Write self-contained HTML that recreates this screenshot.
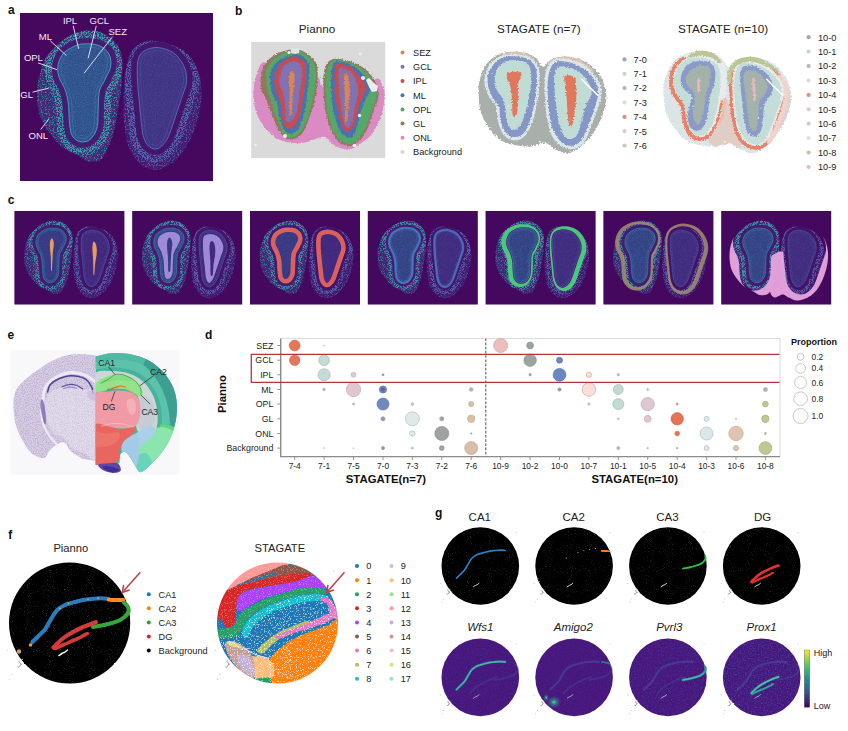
<!DOCTYPE html>
<html><head><meta charset="utf-8"><title>Figure</title>
<style>html,body{margin:0;padding:0;background:#fff}svg{display:block}text{font-family:"Liberation Sans", Arial, sans-serif}</style></head>
<body><svg width="848" height="731" viewBox="0 0 848 731">
<defs>
<filter id="spk" x="-5%" y="-5%" width="110%" height="110%" color-interpolation-filters="sRGB">
 <feTurbulence type="fractalNoise" baseFrequency="0.75" numOctaves="2" seed="4" result="n"/>
 <feColorMatrix in="n" type="matrix" values="0 0 0 0 1  0 0 0 0 1  0 0 0 0 1  6 0 0 0 -3.05" result="m"/>
 <feComposite in="SourceGraphic" in2="m" operator="in" result="d"/>
 <feGaussianBlur in="d" stdDeviation="0.35"/>
</filter>
<filter id="spk2" x="-5%" y="-5%" width="110%" height="110%" color-interpolation-filters="sRGB">
 <feTurbulence type="fractalNoise" baseFrequency="0.8" numOctaves="2" seed="11" result="n"/>
 <feColorMatrix in="n" type="matrix" values="0 0 0 0 1  0 0 0 0 1  0 0 0 0 1  7 0 0 0 -3.2" result="m"/>
 <feComposite in="SourceGraphic" in2="m" operator="in" result="d"/>
 <feGaussianBlur in="d" stdDeviation="0.3"/>
</filter>
<filter id="fine" x="0" y="0" width="100%" height="100%" color-interpolation-filters="sRGB">
 <feTurbulence type="fractalNoise" baseFrequency="0.9" numOctaves="1" seed="2" result="n"/>
 <feColorMatrix in="n" type="matrix" values="0 0 0 0 1  0 0 0 0 1  0 0 0 0 1  3 0 0 0 -1.3" result="m"/>
 <feComposite in="SourceGraphic" in2="m" operator="in"/>
</filter>
<filter id="rough" x="-5%" y="-5%" width="110%" height="110%">
 <feTurbulence type="fractalNoise" baseFrequency="0.55" numOctaves="2" seed="5" result="n"/>
 <feDisplacementMap in="SourceGraphic" in2="n" scale="3.4" xChannelSelector="R" yChannelSelector="G"/>
</filter>
<filter id="rough1" x="-5%" y="-5%" width="110%" height="110%">
 <feTurbulence type="fractalNoise" baseFrequency="0.5" numOctaves="2" seed="8" result="n"/>
 <feDisplacementMap in="SourceGraphic" in2="n" scale="1.4" xChannelSelector="R" yChannelSelector="G"/>
</filter>

<g id="dapi"><rect x="20" y="13" width="193" height="168" fill="#46085f"/>
<path d="M86.6 30.2 82.9 30.8 77.1 32.5 71.4 34.8 66.4 37.4 63.4 39.5 59.3 43.0 50.6 51.2 47.4 54.9 45.3 58.2 43.0 63.4 38.5 78.4 37.2 87.1 37.1 98.7 37.6 105.1 38.7 111.4 40.0 116.0 41.8 120.5 44.1 125.0 46.9 129.5 51.7 136.0 56.0 141.1 60.5 145.7 63.5 148.1 68.3 150.8 77.4 155.0 84.8 160.2 88.0 161.5 93.2 161.8 97.1 161.3 99.4 160.5 101.2 159.6 103.1 157.8 109.5 144.6 113.0 135.0 116.2 120.0 120.6 93.6 121.6 83.7 122.6 62.1 121.4 54.4 119.3 48.5 117.9 45.8 116.0 43.2 111.3 38.3 105.5 34.3 99.1 31.6 92.0 30.2Z" fill="#45307e" opacity="0.75" filter="url(#rough1)"/>
<path d="M84.8 30.4 80.9 31.2 75.1 33.2 69.7 35.6 64.9 38.4 60.6 41.8 51.5 50.3 48.9 53.0 46.7 55.9 44.7 59.4 43.0 63.4 38.5 78.4 37.2 87.1 37.1 98.7 37.6 105.1 38.7 111.4 40.0 116.0 41.8 120.5 44.1 125.0 46.9 129.5 51.7 136.0 56.0 141.1 60.5 145.7 63.5 148.1 68.3 150.8 77.4 155.0 84.8 160.2 88.0 161.5 93.2 161.8 97.1 161.3 99.4 160.5 101.2 159.6 103.1 157.8 109.5 144.6 113.0 135.0 116.2 120.0 120.6 93.6 121.6 83.7 122.6 62.1 121.4 54.4 119.3 48.5 117.9 45.8 116.0 43.2 111.3 38.3 105.5 34.3 99.1 31.6 92.0 30.2 88.4 30.1ZM83.0 38.7 90.4 38.7 97.8 39.7 102.9 41.6 107.2 44.3 111.1 48.0 113.8 52.1 114.9 54.8 115.8 58.1 116.2 63.3 115.7 68.1 114.4 71.9 109.1 83.1 105.4 89.5 104.4 92.3 103.7 98.2 102.9 123.4 102.1 129.0 100.8 132.8 99.3 136.0 97.6 138.9 95.5 141.4 93.1 143.6 90.7 145.1 87.7 146.3 84.7 147.0 81.7 147.2 77.2 146.4 72.8 144.0 70.6 142.0 68.8 140.0 66.3 135.3 65.4 132.3 64.8 127.8 64.1 119.6 63.5 106.4 62.4 99.1 61.1 94.1 59.5 89.6 55.3 81.9 54.2 79.0 52.9 73.4 52.5 68.1 53.0 63.5 54.8 57.8 57.4 52.6 60.5 48.8 66.0 44.8 73.3 40.9 78.4 39.3Z" fill="#308d9f" fill-rule="evenodd" filter="url(#spk)" opacity="0.9"/>
<path d="M46.7 57.0 45.4 61.8 44.9 65.4 44.7 69.9 45.1 74.5 47.2 82.7 48.9 86.5 52.4 92.8 54.8 100.8 55.7 107.0 56.3 120.1 57.2 130.4 58.2 135.6 59.8 140.0 62.7 144.8 67.1 149.5 68.5 150.4 77.6 154.5 81.7 155.0 86.0 154.7 90.3 153.7 93.4 152.5 98.6 149.2 103.0 144.6 105.4 141.1 107.1 137.9 109.7 130.7 110.7 123.6 111.5 98.6 112.0 94.1 112.6 92.4 116.1 86.5 121.5 75.3 122.1 65.3 122.0 60.6 120.9 54.6 118.9 48.8 116.6 44.8 113.4 41.0 109.6 37.6 105.3 34.7 100.7 32.7 96.9 31.6 91.0 30.9 85.7 30.8 81.1 31.7 75.3 33.6 69.9 36.1 65.2 38.8 60.9 42.2 51.8 50.7 48.5 54.2ZM83.1 37.9 90.5 37.9 98.0 38.9 103.2 40.8 107.7 43.6 111.7 47.5 114.6 51.8 115.7 54.6 116.5 57.9 117.0 63.4 116.4 68.3 115.2 72.2 109.8 83.5 106.1 89.8 105.1 92.5 104.5 98.3 103.7 123.4 102.9 129.2 101.6 133.1 100.0 136.4 98.2 139.4 96.1 142.0 93.6 144.3 91.1 145.8 88.0 147.1 84.8 147.8 81.7 148.0 77.0 147.1 72.3 144.6 70.0 142.6 68.2 140.5 66.4 137.7 65.5 135.6 64.7 132.4 64.0 127.8 63.3 119.7 62.7 106.5 61.6 99.3 60.4 94.4 58.8 90.0 54.6 82.3 53.4 79.3 52.1 73.5 51.7 68.1 52.3 63.3 54.0 57.5 56.7 52.2 60.0 48.2 65.5 44.1 73.0 40.2 78.2 38.5Z" fill="#3cabb0" fill-rule="evenodd" filter="url(#spk2)" opacity="0.9"/>
<path d="M81.4 38.4 75.9 39.5 71.0 41.5 63.6 45.8 59.2 49.6 56.3 53.7 53.9 59.1 52.4 64.8 52.1 69.2 52.5 73.7 53.8 79.1 55.0 82.1 59.2 89.8 60.7 94.3 62.0 99.2 63.1 106.5 63.7 119.7 64.6 129.2 65.1 132.6 66.1 135.9 67.4 138.5 69.2 141.1 73.0 144.6 75.7 146.2 78.0 147.0 82.8 147.6 85.9 147.2 89.0 146.4 91.9 144.9 93.8 143.6 95.8 141.7 97.9 139.1 99.7 136.2 101.2 133.0 102.5 129.1 103.3 123.4 104.1 98.3 104.8 92.4 105.7 89.7 109.4 83.3 114.8 72.1 116.1 68.2 116.6 63.0 115.9 56.7 114.0 51.5 111.1 47.4 109.0 45.3 106.3 43.2 101.4 40.5 96.3 39.0 88.5 38.2ZM83.4 43.9 90.0 43.9 95.2 44.4 99.4 45.7 103.1 47.7 107.0 51.2 109.1 54.3 110.4 57.9 111.0 63.1 110.5 67.1 109.7 69.9 104.4 80.8 100.7 87.2 99.3 91.1 98.5 98.0 97.8 122.9 97.3 126.3 96.0 130.8 93.4 135.8 90.1 139.4 88.2 140.6 86.1 141.4 81.7 142.0 78.8 141.4 75.2 139.3 72.9 136.8 71.2 133.7 70.6 131.3 70.0 127.2 69.1 117.5 68.7 106.1 67.5 98.0 66.1 92.6 64.3 87.6 60.5 80.7 59.1 77.3 58.0 72.7 57.7 68.1 58.1 64.6 59.5 59.8 61.8 55.4 64.0 52.7 67.7 49.8 74.5 46.1 78.4 44.6Z" fill="#441d72" fill-rule="evenodd"/>
<path d="M82.0 44.0 78.4 44.6 74.5 46.1 67.7 49.8 64.0 52.7 61.8 55.4 59.5 59.8 58.1 64.6 57.7 69.2 58.0 72.7 59.1 77.3 60.5 80.7 64.3 87.6 66.1 92.6 67.5 98.0 68.7 106.1 69.1 117.5 70.0 127.2 70.6 131.3 71.2 133.7 72.9 136.8 76.1 139.9 79.7 141.7 82.8 142.0 87.2 141.1 89.2 140.0 91.0 138.7 94.1 134.7 96.6 129.4 97.3 126.3 97.8 122.9 98.5 98.0 99.3 91.1 100.7 87.2 104.4 80.8 109.7 69.9 110.5 67.1 111.0 63.1 110.4 57.9 109.1 54.3 107.0 51.2 103.1 47.7 99.4 45.7 95.2 44.4 88.3 43.8Z" fill="#30508c" stroke="#4ea6c0" stroke-width="0.9"/>
<path d="M82.1 44.6 78.6 45.2 74.8 46.6 68.0 50.3 64.4 53.1 62.3 55.7 60.1 60.0 58.7 64.8 58.3 69.2 58.6 72.6 59.7 77.1 61.1 80.4 64.9 87.3 66.7 92.5 68.1 97.9 69.3 106.0 69.7 117.5 70.6 127.1 71.1 131.2 71.8 133.5 73.4 136.4 76.4 139.4 79.8 141.1 82.7 141.4 86.9 140.5 88.9 139.5 90.5 138.2 93.6 134.3 96.0 129.2 96.8 126.2 97.2 122.8 97.9 97.9 98.7 91.0 100.1 86.9 103.9 80.5 108.5 71.1 110.0 67.0 110.4 63.1 109.8 58.0 108.6 54.5 106.6 51.6 102.7 48.2 99.2 46.3 95.0 45.0 88.3 44.4Z" fill="#4587b6" filter="url(#fine)" opacity="0.42"/>
<path d="M82.3 47.2 79.3 47.7 75.9 48.9 69.5 52.5 66.3 55.0 64.5 57.1 62.5 61.0 61.2 65.3 60.9 68.2 61.2 72.2 62.2 76.3 67.8 87.6 70.6 97.4 71.7 104.0 72.4 119.1 73.3 128.2 73.9 131.7 75.0 134.1 77.3 136.8 79.3 138.1 81.8 138.8 84.3 138.6 86.0 138.1 88.8 136.3 91.4 133.0 93.5 128.4 94.6 122.7 95.3 97.8 96.2 90.5 97.8 85.7 101.6 79.3 106.1 70.1 107.4 66.4 107.8 63.1 107.3 58.6 105.8 54.9 103.1 51.7 100.3 49.7 97.1 48.2 93.1 47.4 88.2 47.0Z" fill="none" stroke="#4ea6c0" stroke-width="0.5" opacity="0.5"/>
<path d="M148.7 40.6 145.2 41.0 142.4 42.0 135.5 46.5 133.1 48.9 131.7 50.9 130.4 53.3 128.6 57.6 126.4 66.2 124.9 75.7 123.2 100.0 123.2 114.0 124.2 126.0 126.3 138.4 128.4 146.2 131.3 152.8 135.9 159.7 139.1 163.1 142.5 165.9 146.2 168.1 148.7 169.1 151.3 169.8 155.0 170.0 158.9 169.4 164.4 167.4 169.0 165.0 173.7 161.9 178.0 158.0 180.7 155.0 186.8 145.9 190.0 140.0 192.8 133.7 195.3 127.0 198.0 118.0 199.5 111.3 201.0 102.3 201.5 96.0 201.5 88.4 200.9 83.1 200.0 78.0 198.7 72.9 197.0 68.0 194.8 63.4 193.1 60.6 190.2 56.7 186.9 53.1 183.0 50.0 180.0 48.2 171.3 44.6 164.2 42.5 158.7 41.4 153.3 40.7Z" fill="#452578" opacity="0.6" filter="url(#rough1)"/>
<path d="M147.4 40.7 144.2 41.3 141.5 42.5 137.2 45.2 134.7 47.2 132.4 49.8 131.0 52.0 128.6 57.6 126.4 66.2 124.9 75.7 123.1 102.0 123.3 116.0 124.5 128.0 126.7 140.4 129.0 148.0 132.1 154.3 137.0 160.9 142.5 165.9 146.2 168.1 148.7 169.1 151.3 169.8 155.0 170.0 158.9 169.4 164.4 167.4 169.0 165.0 173.7 161.9 178.0 158.0 180.7 155.0 186.8 145.9 190.0 140.0 192.8 133.7 195.3 127.0 198.0 118.0 199.5 111.3 201.0 102.3 201.5 96.0 201.5 88.4 200.9 83.1 199.6 76.3 198.2 71.3 196.3 66.4 194.0 62.0 191.3 57.9 188.1 54.2 185.7 52.0 181.5 49.1 178.4 47.4 173.1 45.2 167.7 43.5 162.4 42.1 156.9 41.2 151.7 40.6ZM142.7 45.8 145.8 44.4 150.6 42.9 154.3 42.4 158.1 42.3 161.9 42.8 166.0 43.8 169.9 45.1 173.7 46.9 177.3 49.1 180.1 51.6 182.9 54.7 185.3 58.1 187.5 61.7 189.7 66.4 190.9 70.0 191.6 73.5 191.9 80.7 191.5 84.3 190.5 88.5 186.4 100.1 175.6 132.6 173.4 138.3 170.6 143.7 166.2 149.1 163.7 151.2 161.4 152.7 159.4 153.6 156.8 154.2 153.0 154.0 149.1 152.8 146.1 150.9 143.3 148.1 141.4 145.3 139.4 141.0 137.8 135.9 136.8 130.0 132.8 89.5 132.1 76.5 132.1 64.7 133.0 58.7 135.3 52.7 138.1 49.0 140.0 47.4Z" fill="#5166b0" fill-rule="evenodd" filter="url(#spk)" opacity="0.8"/>
<path d="M124.7 85.6 125.7 98.8 129.4 133.4 131.4 141.7 134.5 149.0 137.3 153.1 140.4 156.3 144.0 158.9 148.1 160.8 152.8 161.9 156.3 162.0 160.7 161.3 165.3 159.5 169.0 157.0 173.0 153.2 177.0 148.1 179.7 143.4 183.0 135.3 193.7 102.6 197.9 91.0 199.2 85.5 199.8 79.4 197.7 71.4 194.4 63.7 189.9 57.0 185.3 52.4 179.8 48.6 173.7 46.0 177.8 48.5 182.1 52.6 186.0 57.6 188.9 62.8 191.0 67.8 192.4 73.1 192.8 78.6 192.5 82.8 191.8 86.6 190.6 90.7 187.1 100.3 176.4 132.8 174.1 138.9 171.4 143.9 168.0 148.4 164.2 151.9 161.8 153.4 159.6 154.4 156.9 155.0 153.5 154.9 150.3 154.1 146.9 152.5 144.5 150.5 142.4 148.3 140.1 144.6 138.6 141.2 137.0 136.1 136.0 129.9 134.6 114.7 132.5 96.0 131.3 78.6 131.2 67.8 131.6 61.6 133.0 56.0 135.3 51.2 138.3 47.7 142.6 44.9 148.9 42.5 155.5 41.5 148.7 41.1 146.3 41.3 143.5 42.1 141.0 43.4 136.7 46.2 132.8 50.1 131.4 52.2 129.7 56.3 127.2 64.5 125.6 73.8Z" fill="#5b7fc0" fill-rule="evenodd" filter="url(#spk2)" opacity="0.75"/>
<path d="M141.1 46.2 137.4 49.1 135.9 51.0 134.5 53.4 132.5 58.9 131.7 64.8 131.7 76.5 132.4 89.5 136.7 132.0 137.5 136.3 139.1 141.3 141.2 145.8 143.7 149.2 146.3 151.6 149.9 153.6 153.5 154.5 156.8 154.6 159.5 154.0 161.6 153.0 163.9 151.6 166.5 149.4 170.9 143.9 173.8 138.5 176.0 132.7 186.7 100.2 190.9 88.6 191.9 84.4 192.3 80.7 192.0 73.4 191.3 69.9 190.1 66.3 187.8 61.5 185.6 57.8 183.2 54.5 180.4 51.3 177.1 48.6 173.6 46.4 169.8 44.6 165.9 43.3 160.3 42.1 156.6 41.9 152.7 42.1 148.7 43.0 144.2 44.6ZM145.1 50.3 148.9 48.8 151.8 48.0 154.9 47.5 157.9 47.5 162.7 48.3 166.2 49.3 169.5 50.6 172.6 52.3 175.3 54.2 177.8 56.7 182.0 62.5 183.6 65.5 185.4 69.9 186.6 75.6 186.6 81.9 185.5 87.1 181.5 98.4 170.7 130.9 168.6 136.3 166.3 140.7 162.6 145.3 158.8 148.2 156.0 149.0 154.1 148.9 151.2 148.0 148.7 146.3 146.6 143.8 144.8 140.5 143.8 137.8 142.5 133.1 142.0 129.3 138.0 89.1 137.3 76.4 137.3 66.4 137.7 61.3 139.4 56.0 141.6 52.8Z" fill="#45156a" fill-rule="evenodd"/>
<path d="M144.1 50.9 141.6 52.8 139.4 56.0 137.7 61.3 137.3 66.4 137.3 76.4 138.0 89.1 142.0 129.3 142.5 133.1 143.8 137.8 144.8 140.5 146.6 143.8 148.7 146.3 151.2 148.0 154.1 148.9 156.0 149.0 158.8 148.2 162.6 145.3 166.3 140.7 168.6 136.3 170.7 130.9 181.5 98.4 185.5 87.1 186.6 81.9 186.6 75.6 185.4 69.9 183.6 65.5 182.0 62.5 177.8 56.7 175.3 54.2 172.6 52.3 169.5 50.6 166.2 49.3 162.7 48.3 157.9 47.5 154.9 47.5 150.4 48.3 147.6 49.2Z" fill="#403282" stroke="#5a72b6" stroke-width="0.9"/>
<path d="M144.4 51.4 141.4 53.9 139.6 57.2 138.3 61.4 137.8 67.9 137.9 78.4 138.7 91.3 142.5 129.2 143.1 133.0 144.4 137.6 145.4 140.3 147.1 143.5 149.1 145.9 151.5 147.5 154.1 148.4 156.0 148.4 157.7 148.0 159.5 147.1 163.1 143.9 166.6 139.1 168.8 134.4 184.9 86.9 186.0 81.8 186.1 75.7 184.8 70.0 183.1 65.8 181.5 62.8 177.3 57.1 174.9 54.7 172.3 52.8 166.0 49.8 162.6 48.9 157.9 48.1 154.9 48.1 150.5 48.9 147.8 49.8Z" fill="#5a68b8" filter="url(#fine)" opacity="0.3"/>
<path d="M145.7 53.7 143.5 55.6 141.7 59.0 140.7 62.9 140.4 69.4 140.5 78.3 141.3 91.0 145.1 128.9 145.7 132.5 146.8 136.8 149.3 142.0 150.3 143.4 152.0 144.8 153.9 145.6 155.7 145.8 158.1 144.9 161.2 142.2 164.3 137.8 166.4 133.4 182.4 86.2 183.4 81.5 183.5 76.0 182.4 70.9 179.2 64.2 175.4 58.8 173.2 56.7 170.9 55.0 165.1 52.3 162.0 51.4 157.7 50.7 155.1 50.7 151.2 51.4Z" fill="none" stroke="#5a72b6" stroke-width="0.5" opacity="0.5"/></g>
<filter id="nissl" x="0" y="0" width="100%" height="100%" color-interpolation-filters="sRGB">
 <feTurbulence type="fractalNoise" baseFrequency="0.9" numOctaves="2" seed="9" result="n"/>
 <feColorMatrix in="n" type="matrix" values="0 0 0 0 0.56  0 0 0 0 0.46  0 0 0 0 0.72  4 0 0 0 -1.7" result="c"/>
 <feComposite in="c" in2="SourceGraphic" operator="in"/>
</filter>
<clipPath id="rhemi"><rect x="95.4" y="345" width="90" height="135"/></clipPath>
<clipPath id="lhemi"><rect x="8" y="345" width="87.4" height="135"/></clipPath>
<clipPath id="rbrain"><path d="M95.5 356.5 L101.1 355.2C102.9 354.9 107.3 353.5 112.2 353.3C117.1 353.2 124.5 353.0 130.7 354.2C136.8 355.5 143.6 357.6 149.1 360.7C154.7 363.8 159.9 368.3 163.9 372.7C167.9 377.2 171.0 382.3 173.2 387.5C175.3 392.8 176.5 398.3 176.9 404.1C177.2 410.0 176.6 416.8 175.4 422.6C174.2 428.5 172.3 434.0 169.9 439.3C167.4 444.5 163.9 449.7 160.6 454.1C157.3 458.4 153.4 462.1 150.1 465.1C146.8 468.2 143.3 472.0 140.8 472.2C138.4 472.3 137.1 468.6 135.3 466.1C133.4 463.5 131.5 459.2 129.7 456.8C128.0 454.5 126.3 452.2 124.8 451.8C123.2 451.4 121.4 452.5 120.5 454.4C119.6 456.3 119.7 461.8 119.6 463.3L95.5 465.1 Z"/></clipPath>
<filter id="edge" x="-5%" y="-5%" width="110%" height="110%">
 <feTurbulence type="fractalNoise" baseFrequency="0.9" numOctaves="1" seed="3" result="n"/>
 <feDisplacementMap in="SourceGraphic" in2="n" scale="1.6" xChannelSelector="R" yChannelSelector="G"/>
</filter>
<filter id="dots2" x="0" y="0" width="100%" height="100%" color-interpolation-filters="sRGB">
 <feTurbulence type="fractalNoise" baseFrequency="0.85" numOctaves="2" seed="31" result="n"/>
 <feColorMatrix in="n" type="matrix" values="0 0 0 0 1  0 0 0 0 1  0 0 0 0 1  8 0 0 0 -4.5" result="c"/>
 <feComposite in="c" in2="SourceGraphic" operator="in"/>
</filter>
<filter id="dots" x="0" y="0" width="100%" height="100%" color-interpolation-filters="sRGB">
 <feTurbulence type="fractalNoise" baseFrequency="0.95" numOctaves="1" seed="21" result="n"/>
 <feColorMatrix in="n" type="matrix" values="0 0 0 0 1  0 0 0 0 1  0 0 0 0 1  9 0 0 0 -5.6" result="c"/>
 <feComposite in="c" in2="SourceGraphic" operator="in"/>
</filter>
<clipPath id="fsc"><circle cx="277.5" cy="623.0" r="60.5"/></clipPath>
<filter id="vnoise" x="0" y="0" width="100%" height="100%" color-interpolation-filters="sRGB">
 <feTurbulence type="fractalNoise" baseFrequency="0.7" numOctaves="2" seed="13" result="n"/>
 <feColorMatrix in="n" type="matrix" values="0 0 0 0 0.24  0 0 0 0 0.28  0 0 0 0 0.62  3.2 0 0 0 -1.45" result="c"/>
 <feComposite in="c" in2="SourceGraphic" operator="in"/>
</filter>
<radialGradient id="amg"><stop offset="0" stop-color="#7fe07a" stop-opacity="0.95"/><stop offset="0.3" stop-color="#2fa08f" stop-opacity="0.75"/><stop offset="1" stop-color="#3b5a9a" stop-opacity="0"/></radialGradient>
<linearGradient id="vir" x1="0" y1="1" x2="0" y2="0">
 <stop offset="0" stop-color="#440154"/><stop offset="0.25" stop-color="#3b528b"/><stop offset="0.5" stop-color="#21918c"/><stop offset="0.75" stop-color="#5ec962"/><stop offset="1" stop-color="#fde725"/>
</linearGradient></defs>
<rect width="848" height="731" fill="#fff"/>
<use href="#dapi"/>
<text x="8.0" y="14.4" font-size="12" fill="#111" text-anchor="start" font-weight="bold" font-style="normal" >a</text>
<text x="62.9" y="23.6" font-size="9.5" fill="#f3e9f6" text-anchor="start" font-weight="normal" font-style="normal" >IPL</text>
<text x="89.5" y="23.6" font-size="9.5" fill="#f3e9f6" text-anchor="start" font-weight="normal" font-style="normal" >GCL</text>
<text x="108.5" y="35.3" font-size="9.5" fill="#f3e9f6" text-anchor="start" font-weight="normal" font-style="normal" >SEZ</text>
<text x="38.8" y="39.9" font-size="9.5" fill="#f3e9f6" text-anchor="start" font-weight="normal" font-style="normal" >ML</text>
<text x="23.9" y="60.8" font-size="9.5" fill="#f3e9f6" text-anchor="start" font-weight="normal" font-style="normal" >OPL</text>
<text x="20.3" y="97.7" font-size="9.5" fill="#f3e9f6" text-anchor="start" font-weight="normal" font-style="normal" >GL</text>
<text x="28.5" y="138.9" font-size="9.5" fill="#f3e9f6" text-anchor="start" font-weight="normal" font-style="normal" >ONL</text>
<line x1="73.2" y1="25.8" x2="78.7" y2="48.8" stroke="#efe6f5" stroke-width="0.9"/>
<line x1="96.3" y1="25.8" x2="88.1" y2="58.3" stroke="#efe6f5" stroke-width="0.9"/>
<line x1="112.6" y1="36.6" x2="84.1" y2="73.2" stroke="#efe6f5" stroke-width="0.9"/>
<line x1="50.2" y1="40.7" x2="66.4" y2="55.6" stroke="#efe6f5" stroke-width="0.9"/>
<line x1="38.0" y1="62.9" x2="57.0" y2="69.7" stroke="#efe6f5" stroke-width="0.9"/>
<line x1="32.5" y1="92.2" x2="48.8" y2="88.1" stroke="#efe6f5" stroke-width="0.9"/>
<line x1="40.7" y1="129.6" x2="48.8" y2="118.8" stroke="#efe6f5" stroke-width="0.9"/>
<text x="235.1" y="14.6" font-size="12" fill="#111" text-anchor="start" font-weight="bold" font-style="normal" >b</text>
<rect x="251.2" y="42" width="134" height="116" fill="#dadada"/>
<g filter="url(#rough)">
<path d="M264.9 62.6 263.4 62.3 262.2 62.7 261.1 63.7 260.1 65.0 258.6 68.5 255.2 79.1 254.1 84.2 253.4 91.4 253.5 97.0 254.1 102.9 255.2 108.8 256.3 112.4 258.3 117.4 260.8 122.0 264.9 127.7 268.5 131.7 272.6 135.3 276.9 138.4 281.3 140.5 286.0 141.9 293.6 143.0 299.1 143.2 303.1 142.8 308.4 141.7 319.4 137.6 322.7 136.8 324.1 136.8 325.6 137.3 326.9 138.1 331.9 143.5 335.0 145.6 338.9 147.5 343.2 149.1 346.0 149.7 348.5 149.7 350.8 149.2 354.1 147.8 360.1 144.1 365.6 140.1 368.4 137.7 371.0 134.9 373.3 131.9 375.6 128.3 377.6 124.5 379.5 120.4 381.8 114.3 383.3 107.7 384.4 98.8 384.6 93.2 384.3 89.3 383.3 86.6 381.4 82.9 380.6 80.1 379.7 79.2 378.2 78.8 375.5 79.2 371.9 80.7 362.7 85.1 357.6 86.9 354.9 87.5 345.6 88.4 335.1 88.6 328.9 88.3 326.4 87.9 324.3 87.5 322.7 86.7 321.6 85.7 320.8 84.4 320.0 81.5 319.6 77.9 319.3 77.2 318.9 76.9 318.5 77.2 318.2 77.9 317.6 81.5 316.8 84.4 316.1 85.7 315.1 86.7 313.8 87.5 307.4 89.0 301.9 89.7 296.1 89.6 293.2 89.2 290.5 88.5 287.9 87.5 285.4 85.8 282.9 83.5 277.8 77.5 270.7 68.0 268.5 65.5 266.6 63.6Z" fill="#da8bc3" fill-rule="evenodd" />
<path d="M293.6 49.2 290.1 49.6 286.1 50.4 279.9 52.3 276.1 54.0 274.5 54.9 270.1 58.2 267.5 60.8 265.2 63.6 263.4 66.7 262.6 68.3 262.0 70.0 261.1 73.9 260.5 80.1 260.5 85.8 260.9 88.9 261.3 90.2 262.2 92.4 264.7 96.5 265.9 99.0 270.9 112.6 275.0 122.3 277.9 128.5 280.8 133.4 283.5 136.6 285.3 138.1 287.2 139.1 288.1 139.3 290.2 139.6 292.5 139.4 294.9 138.8 297.5 137.7 298.7 136.9 301.1 134.8 302.3 133.4 303.3 131.8 305.5 127.8 307.5 123.0 310.2 115.3 312.6 108.2 314.5 101.3 316.0 94.4 316.7 89.8 317.5 82.7 317.7 77.7 317.7 70.5 317.1 66.3 316.0 62.8 315.2 61.3 313.2 58.7 309.7 55.5 306.1 53.0 302.7 51.0 300.4 50.0 297.9 49.4Z" fill="#937860" fill-rule="evenodd" />
<path d="M294.0 50.7 288.9 51.6 283.2 53.6 277.9 56.2 275.0 58.2 271.4 61.9 268.4 66.1 266.4 70.6 265.8 73.8 265.8 77.3 266.1 80.9 267.5 90.2 270.7 99.9 273.2 109.4 274.7 113.9 279.2 125.4 280.9 129.1 282.5 131.9 284.7 134.8 286.2 136.1 287.7 136.9 289.3 137.3 291.2 137.2 293.3 136.9 295.6 136.1 297.9 134.8 300.1 132.8 301.1 131.5 302.1 130.0 304.0 126.3 305.9 121.9 308.4 114.7 310.6 107.9 312.5 101.1 314.5 92.0 315.1 87.5 315.7 80.5 315.9 73.5 315.6 69.3 314.9 65.6 314.3 64.1 312.8 61.4 310.9 59.2 308.8 57.3 302.4 52.8 300.3 51.7 298.0 51.0 295.4 50.6Z" fill="#55a868" fill-rule="evenodd" />
<path d="M295.6 53.9 290.7 55.0 285.0 57.0 279.7 59.7 277.1 61.7 274.9 64.1 272.4 68.1 270.7 72.5 270.0 75.6 269.9 77.3 270.1 82.7 270.6 86.3 271.6 91.3 272.5 94.2 276.4 102.1 277.4 104.7 277.9 107.4 278.6 115.4 279.8 119.6 282.3 125.9 284.7 130.1 285.5 131.1 287.2 132.5 288.1 133.0 290.1 133.5 292.1 133.4 294.1 132.8 295.9 131.5 296.8 130.6 298.5 128.3 300.1 125.3 301.6 121.8 303.0 118.1 304.6 112.2 305.9 105.4 308.1 87.8 309.2 76.0 309.4 70.7 309.3 66.4 308.8 63.4 308.0 61.4 306.2 59.4 302.1 55.9 300.6 54.9 298.9 54.2 297.9 54.0Z" fill="#4c72b0" fill-rule="evenodd" />
<path d="M295.6 56.4 291.5 57.4 288.3 58.6 283.7 61.1 281.2 63.0 279.2 65.1 276.8 69.0 275.0 73.2 274.1 77.3 273.9 80.0 274.1 82.7 275.4 89.4 276.8 93.5 279.6 100.2 280.7 104.0 281.0 106.4 281.4 113.1 282.4 119.5 283.2 123.3 284.0 125.4 285.0 126.8 287.2 128.3 288.8 128.8 290.5 128.7 291.3 128.5 292.9 127.5 294.5 125.8 296.2 123.6 297.8 120.9 299.8 116.2 300.8 112.7 302.0 106.6 304.3 89.8 305.7 77.9 306.2 72.5 306.3 68.3 306.0 65.5 305.5 63.7 304.8 62.5 299.9 57.7 298.4 56.8 297.5 56.5Z" fill="#c44e52" fill-rule="evenodd" />
<path d="M295.6 61.6 293.8 61.4 290.7 62.0 287.7 63.4 284.5 65.6 282.6 67.8 281.0 70.3 279.9 73.1 279.3 76.6 279.1 81.4 279.5 84.7 280.1 86.5 282.8 92.1 283.4 94.4 284.1 98.3 285.1 108.0 285.4 115.5 285.7 119.2 286.0 120.0 286.7 121.3 287.6 122.2 288.6 122.6 290.2 122.3 291.3 121.5 292.5 120.2 293.8 118.5 295.0 116.3 296.5 112.4 297.6 107.5 299.4 93.2 302.1 76.2 302.4 72.0 302.3 70.2 301.6 67.4 300.4 65.2 298.9 63.5 297.2 62.4Z" fill="#8172b3" fill-rule="evenodd" />
<path d="M292.1 70.8 291.5 71.0 290.9 71.7 289.7 73.8 289.1 75.7 288.8 79.0 288.9 84.6 289.8 93.2 289.4 103.6 289.5 111.2 289.8 114.3 290.1 115.1 290.5 115.7 290.9 115.6 291.2 115.1 291.7 112.5 292.3 104.7 292.7 93.2 294.1 84.6 294.7 78.1 294.7 75.7 294.3 73.8 293.3 71.7 292.7 71.0Z" fill="#dd8452" fill-rule="evenodd" />
<path d="M335.8 58.7 333.6 59.0 331.8 59.4 330.3 60.2 328.3 61.8 326.6 64.3 325.6 66.2 324.8 68.5 324.2 71.1 323.7 74.1 323.4 77.4 323.4 85.2 324.2 100.9 325.3 110.5 327.0 118.4 329.4 126.3 331.6 131.5 333.2 134.5 335.0 137.3 337.0 139.7 339.0 141.8 342.2 144.1 344.5 145.1 346.9 145.8 349.4 146.1 350.6 146.0 353.0 145.3 354.2 144.8 358.0 142.1 360.5 139.7 362.8 136.9 365.8 132.2 368.4 126.5 372.6 114.3 377.2 101.7 378.0 98.5 378.5 95.7 378.8 92.2 378.6 90.2 378.1 88.0 376.5 84.1 374.8 81.0 372.7 77.7 370.3 74.5 367.7 71.5 363.7 68.0 360.6 66.0 357.5 64.3 354.2 62.9 349.5 61.1 343.0 59.4 338.4 58.8Z" fill="#937860" fill-rule="evenodd" />
<path d="M336.2 59.9 334.2 60.2 332.7 60.7 331.4 61.6 330.3 62.7 328.8 64.9 327.8 66.6 326.7 69.7 326.1 72.1 325.4 78.0 325.3 85.5 326.0 100.7 326.5 106.3 327.0 110.1 328.7 117.9 331.0 125.7 333.1 130.8 335.5 134.9 337.2 137.2 339.0 139.2 340.9 140.8 342.9 142.1 345.0 143.1 347.2 143.8 349.4 144.0 350.5 144.0 352.6 143.4 353.7 142.9 356.0 141.4 358.2 139.3 360.4 136.9 362.4 134.1 365.1 129.4 367.4 123.7 375.1 101.6 375.9 98.5 376.6 94.5 376.7 92.4 376.6 90.4 375.7 87.2 374.6 84.6 371.1 78.5 368.9 75.4 366.5 72.6 362.7 69.2 359.8 67.3 356.8 65.6 349.2 62.4 346.1 61.4 341.4 60.3 338.6 59.9Z" fill="#55a868" fill-rule="evenodd" />
<path d="M335.8 61.6 334.2 62.2 333.7 62.6 333.0 63.8 331.7 69.5 331.3 73.6 331.0 81.9 331.2 93.1 331.7 100.9 332.8 108.2 334.4 115.2 336.3 121.6 338.3 127.6 340.1 131.4 341.5 133.4 344.2 135.7 347.4 137.2 349.4 137.5 350.3 137.5 351.8 136.9 353.2 135.6 354.3 133.7 355.9 130.2 357.7 125.0 359.8 115.5 361.2 110.8 366.4 97.0 370.0 90.4 370.4 88.6 370.3 87.5 370.0 86.3 368.9 83.6 367.4 80.8 365.5 77.9 363.6 75.3 360.6 71.8 356.2 67.6 353.7 65.9 351.1 64.5 346.4 62.8 343.0 62.0 339.7 61.6Z" fill="#4c72b0" fill-rule="evenodd" />
<path d="M337.7 63.9 336.5 64.3 336.0 64.7 335.5 65.6 334.6 71.2 334.6 76.1 335.2 92.0 335.6 97.3 336.2 102.2 337.3 108.4 340.0 120.3 341.2 124.4 342.0 126.8 343.0 128.5 344.7 130.4 346.5 131.4 348.2 131.5 349.4 131.1 351.3 129.6 353.0 127.5 354.4 124.9 355.3 121.7 356.9 114.3 359.4 105.0 361.2 99.5 365.2 91.3 366.0 88.7 365.9 86.3 365.7 85.2 364.8 83.0 362.7 80.0 356.7 72.5 354.6 70.3 352.4 68.3 350.2 66.8 346.3 65.1 342.1 64.1 339.6 63.8Z" fill="#c44e52" fill-rule="evenodd" />
<path d="M339.6 68.3 338.8 69.6 338.5 71.7 338.7 82.6 339.5 93.6 340.9 106.0 342.6 116.4 344.1 122.9 344.7 124.7 345.8 126.6 347.0 127.7 347.8 127.8 349.2 127.0 350.8 124.9 352.2 122.1 353.3 118.9 353.8 116.4 354.9 106.6 357.7 94.5 358.0 89.6 357.8 85.0 356.9 81.7 355.1 78.3 352.7 74.8 350.1 71.9 347.3 69.9 344.0 68.4 341.9 67.9 341.0 67.8Z" fill="#8172b3" fill-rule="evenodd" />
<path d="M346.3 73.1 346.0 72.9 345.5 73.3 344.8 74.9 344.2 77.9 344.0 81.1 345.0 102.8 345.1 117.5 345.5 120.0 346.0 120.9 346.5 121.2 347.1 120.9 347.3 120.6 347.7 118.3 348.4 106.6 349.6 95.7 350.1 87.4 349.8 83.6 348.9 80.1 347.4 75.2Z" fill="#dd8452" fill-rule="evenodd" />
</g>
<circle cx="360.2" cy="53.8" r="1.6" fill="#eee"/>
<circle cx="255.5" cy="145.0" r="1.2" fill="#eee"/>
<circle cx="285.0" cy="136.0" r="2.0" fill="#eee"/>
<circle cx="354.5" cy="145.5" r="1.8" fill="#eee"/>
<circle cx="359.5" cy="115.5" r="1.7" fill="#eee"/>
<circle cx="289.0" cy="52.5" r="1.6" fill="#eee"/>
<circle cx="294.0" cy="52.0" r="1.3" fill="#eee"/>
<circle cx="363.0" cy="78.0" r="2.0" fill="#eee"/>
<path d="M366 80 l3 -2 l5 5 l4 3 l-1 5 l-5 1 l-3 -5z" fill="#ededed"/>
<path d="M290.5 48.5 h9 l-0.5 4.6 l-4 1 l-4 -1.2z" fill="#e4e4e4"/>
<text x="317.0" y="33.0" font-size="11.7" fill="#222" text-anchor="middle" font-weight="normal" font-style="normal" >Pianno</text>
<circle cx="402.5" cy="52.6" r="2" fill="#dd8452"/>
<text x="413.0" y="55.9" font-size="9.2" fill="#222" text-anchor="start" font-weight="normal" font-style="normal" >SEZ</text>
<circle cx="402.5" cy="66.8" r="2" fill="#8172b3"/>
<text x="413.0" y="70.1" font-size="9.2" fill="#222" text-anchor="start" font-weight="normal" font-style="normal" >GCL</text>
<circle cx="402.5" cy="81.0" r="2" fill="#c44e52"/>
<text x="413.0" y="84.3" font-size="9.2" fill="#222" text-anchor="start" font-weight="normal" font-style="normal" >IPL</text>
<circle cx="402.5" cy="95.2" r="2" fill="#4c72b0"/>
<text x="413.0" y="98.5" font-size="9.2" fill="#222" text-anchor="start" font-weight="normal" font-style="normal" >ML</text>
<circle cx="402.5" cy="109.4" r="2" fill="#55a868"/>
<text x="413.0" y="112.7" font-size="9.2" fill="#222" text-anchor="start" font-weight="normal" font-style="normal" >OPL</text>
<circle cx="402.5" cy="123.6" r="2" fill="#937860"/>
<text x="413.0" y="126.9" font-size="9.2" fill="#222" text-anchor="start" font-weight="normal" font-style="normal" >GL</text>
<circle cx="402.5" cy="137.8" r="2" fill="#da8bc3"/>
<text x="413.0" y="141.1" font-size="9.2" fill="#222" text-anchor="start" font-weight="normal" font-style="normal" >ONL</text>
<circle cx="402.5" cy="152.0" r="2" fill="#d8d8d8"/>
<text x="413.0" y="155.3" font-size="9.2" fill="#222" text-anchor="start" font-weight="normal" font-style="normal" >Background</text>
<g filter="url(#rough)">
<path d="M505.4 52.4 501.2 53.4 498.6 54.4 496.3 55.5 492.0 58.5 490.0 60.3 488.1 62.3 484.9 67.0 482.8 71.1 480.4 77.6 479.1 82.6 478.5 87.4 478.4 93.9 479.3 104.5 480.2 110.1 481.5 114.3 484.1 120.0 487.5 125.7 490.5 129.8 494.0 133.9 496.5 136.5 499.2 138.9 501.8 140.8 504.6 142.3 507.4 143.3 511.7 144.4 517.4 145.5 525.0 146.4 531.1 146.4 533.4 145.9 536.5 144.6 541.6 143.2 544.4 142.8 546.1 143.0 548.2 144.0 552.2 147.4 559.1 151.1 563.1 152.7 564.3 153.0 566.6 153.3 569.8 152.8 572.9 151.5 577.3 148.9 581.0 146.2 584.9 142.9 588.5 139.1 593.1 133.2 596.3 128.2 599.1 123.1 601.5 117.9 603.5 112.4 605.3 105.5 606.1 100.9 606.3 96.8 606.1 92.7 605.3 88.4 604.0 84.0 601.6 78.4 599.4 74.7 596.9 71.4 595.1 69.3 592.1 66.5 588.7 64.0 586.3 62.5 582.4 60.5 579.7 59.5 573.4 57.8 568.4 57.1 563.8 56.8 559.6 57.1 554.6 58.2 552.4 59.0 550.4 60.0 548.7 61.5 544.8 66.2 543.8 66.7 543.0 66.8 542.1 66.3 540.3 64.3 538.2 60.6 536.3 58.3 532.4 55.8 528.7 54.0 526.0 53.1 523.1 52.4 518.0 51.8 510.5 51.8Z" fill="#a9b0ab" fill-rule="evenodd" />
<path d="M496.5 58.6 497.4 58.5 503.6 56.4 506.6 55.7 509.4 55.5 513.9 55.6 518.6 56.1 523.1 56.8 527.6 58.2 535.2 61.1 535.8 61.2 536.2 61.0 535.3 59.9 533.4 58.3 529.3 55.8 526.1 54.0 522.5 52.7 520.0 52.2 517.2 51.9 511.2 52.1 508.4 52.5 505.8 53.1 503.0 54.4 500.2 55.9 498.0 57.3Z" fill="#d9c3b6" fill-rule="evenodd" />
<path d="M547.8 63.9 548.8 63.9 553.9 62.8 563.1 61.6 567.6 61.4 570.5 61.8 574.9 63.1 581.9 66.0 585.8 67.9 592.6 72.2 593.8 72.7 594.3 72.5 594.1 71.8 593.5 70.6 591.9 68.6 587.3 64.7 583.6 62.0 581.0 60.4 578.4 59.3 575.6 58.3 571.2 57.1 566.9 56.5 564.2 56.5 561.5 56.7 557.5 57.6 554.1 58.7 551.4 60.0 548.7 62.3 548.0 63.3Z" fill="#d9c3b6" fill-rule="evenodd" />
<path d="M508.9 54.2 504.1 55.0 501.1 56.0 498.4 57.2 495.9 58.7 493.7 60.3 491.6 62.1 489.8 64.2 488.3 66.5 487.0 68.8 485.6 72.7 485.0 75.6 484.6 78.5 484.5 81.5 484.7 84.2 485.1 86.8 485.9 89.4 487.4 93.1 489.1 96.6 490.4 98.8 494.4 103.8 495.7 106.0 496.2 107.2 496.8 109.8 497.5 118.6 497.9 121.4 499.6 126.9 501.9 132.0 503.3 134.1 504.8 135.9 506.6 137.5 508.5 138.8 511.5 140.1 513.5 140.4 515.6 140.5 518.9 139.9 521.1 139.0 523.1 137.6 524.9 135.9 526.7 133.6 529.2 129.5 531.4 124.9 532.7 121.5 534.4 115.7 535.8 109.6 538.1 96.9 539.2 86.2 539.5 78.4 539.4 72.9 538.6 68.0 538.1 66.5 536.9 64.0 534.4 60.7 531.1 58.2 526.8 56.2 521.0 54.9 514.7 54.1Z" fill="#dbe7e8" fill-rule="evenodd" />
<path d="M508.9 56.3 504.7 57.0 502.1 57.9 499.7 59.1 497.5 60.5 495.6 62.1 492.9 65.0 490.7 68.3 488.7 73.0 488.1 75.4 487.7 77.9 487.6 83.0 487.9 85.5 488.5 88.0 491.0 94.2 492.7 97.8 497.4 104.6 499.2 108.1 499.7 110.5 500.0 118.1 500.4 120.5 502.0 125.5 503.6 129.0 504.8 131.1 506.0 132.8 507.3 134.2 508.6 135.3 510.1 136.2 511.6 136.8 513.3 137.0 515.3 137.1 518.4 136.6 520.4 135.8 522.2 134.6 523.8 133.0 525.3 131.0 527.4 127.3 529.3 123.1 530.4 120.1 531.9 114.9 533.2 109.3 534.8 101.4 535.8 94.8 536.6 88.2 536.9 84.2 537.0 78.6 536.8 73.4 535.9 68.8 534.3 65.0 532.0 62.1 529.1 59.8 525.2 58.0 519.9 56.8 514.1 56.2Z" fill="#8497c6" fill-rule="evenodd" />
<path d="M509.8 60.3 507.2 60.8 504.5 61.9 500.3 64.7 498.3 66.9 496.6 70.1 495.4 74.4 494.8 77.8 494.8 82.1 495.5 86.3 496.5 89.5 498.4 92.7 502.5 98.0 504.0 101.2 504.7 104.3 506.4 119.8 506.9 122.1 507.5 124.0 508.6 126.4 510.5 128.6 512.1 129.6 513.3 129.8 514.6 129.8 515.9 129.5 517.2 128.9 518.3 127.9 520.0 125.8 521.1 124.0 522.6 120.8 524.5 115.5 527.1 105.5 529.2 96.0 530.3 89.9 531.1 82.4 531.3 77.2 531.2 73.9 530.5 69.5 529.7 67.2 528.1 64.5 525.8 62.6 523.1 61.2 519.3 60.4 515.0 60.1Z" fill="#c0dcd4" fill-rule="evenodd" />
<path d="M507.7 73.1 507.1 73.5 506.7 74.3 506.6 77.0 507.3 79.8 508.9 82.0 509.6 83.3 510.8 88.9 511.9 98.4 512.4 112.9 512.7 115.2 513.0 116.1 513.5 116.7 514.0 117.0 514.7 117.0 515.5 116.6 516.1 115.5 516.8 113.9 517.4 111.1 517.9 104.9 517.9 92.3 518.2 83.6 518.5 82.1 518.9 80.9 520.6 78.4 520.9 77.5 521.4 75.2 521.4 73.4 520.8 72.2 519.9 71.8 518.6 71.6 512.1 72.0 509.2 72.5Z" fill="#e2775b" fill-rule="evenodd" />
<path d="M558.4 58.6 555.8 59.1 553.6 60.0 551.6 61.3 549.8 62.9 548.4 64.8 547.2 67.0 546.3 69.7 545.7 72.6 544.7 80.5 544.5 89.2 545.4 106.3 546.0 112.3 546.9 117.9 548.4 125.4 549.3 128.9 550.4 132.2 551.7 135.2 553.2 138.0 554.9 140.6 556.8 142.8 559.9 145.6 562.2 147.0 564.8 148.1 567.4 148.8 570.1 149.2 573.8 149.0 577.3 147.8 579.5 146.5 581.7 144.9 584.4 141.9 586.0 139.3 587.4 136.4 592.6 123.3 600.4 100.6 601.1 97.9 601.5 94.0 601.5 90.4 601.2 88.0 600.5 85.5 599.4 82.9 597.0 78.4 594.9 75.4 592.7 72.6 590.3 70.1 587.8 67.9 585.1 65.9 582.3 64.1 579.3 62.5 576.1 61.2 572.7 60.2 569.0 59.3 565.1 58.7 561.6 58.4Z" fill="#dbe7e8" fill-rule="evenodd" />
<path d="M558.4 61.2 556.4 61.7 554.8 62.4 553.5 63.5 552.4 64.8 550.9 67.5 549.9 69.8 549.2 72.4 548.3 76.8 547.6 82.9 547.6 91.3 548.4 106.4 549.6 116.1 551.0 122.9 552.9 129.2 554.7 133.3 557.6 138.1 559.3 140.1 561.1 141.9 564.0 143.9 566.1 144.8 568.4 145.5 570.5 145.8 572.6 145.8 574.5 145.3 576.4 144.4 578.2 143.2 579.9 141.7 581.4 139.9 582.9 138.0 585.3 133.1 590.9 119.3 593.3 112.4 596.6 101.9 597.5 97.9 598.0 94.2 598.1 90.7 597.9 88.5 597.4 86.3 596.5 83.9 594.4 80.0 592.7 77.5 590.7 75.0 588.5 72.7 586.1 70.6 583.4 68.6 580.4 66.8 577.4 65.2 574.4 63.9 571.2 62.8 567.7 62.0 564.3 61.4 561.1 61.1Z" fill="#8497c6" fill-rule="evenodd" />
<path d="M560.2 66.5 558.8 66.8 557.7 67.3 557.0 68.0 556.4 68.9 555.5 70.7 554.8 72.9 554.1 77.7 554.1 84.8 555.0 96.4 556.1 106.1 557.5 116.7 558.6 122.3 559.7 126.2 561.7 131.4 563.4 134.7 565.3 137.1 567.4 138.5 569.6 139.1 571.7 139.1 573.7 138.3 575.7 136.8 577.4 134.6 578.4 132.8 579.8 128.1 584.5 108.6 586.2 104.6 589.8 98.2 590.8 95.9 591.5 92.9 591.6 90.3 591.2 88.7 590.3 86.0 588.7 82.8 587.4 80.6 584.1 76.3 582.3 74.5 579.3 72.0 574.9 69.3 571.4 67.9 566.0 66.8 563.4 66.5Z" fill="#c0dcd4" fill-rule="evenodd" />
<path d="M564.6 76.3 564.3 76.9 564.1 78.8 565.4 86.5 566.8 98.8 567.6 113.0 568.2 120.5 568.7 123.5 569.1 124.9 569.6 125.8 570.6 126.2 571.3 126.0 572.0 125.4 572.5 124.3 573.0 122.6 574.8 111.7 575.7 104.5 576.2 98.7 576.4 92.7 575.9 80.7 575.5 79.0 574.9 77.7 574.4 77.1 572.8 76.3 570.5 75.6 568.1 75.3 566.0 75.5 565.2 75.8Z" fill="#e2775b" fill-rule="evenodd" />
</g>
<circle cx="539.9" cy="141.7" r="0.9" fill="#fff" opacity="0.85"/>
<circle cx="508.0" cy="106.3" r="0.7" fill="#fff" opacity="0.85"/>
<circle cx="492.1" cy="73.6" r="0.5" fill="#fff" opacity="0.85"/>
<circle cx="528.4" cy="106.3" r="0.5" fill="#fff" opacity="0.85"/>
<circle cx="573.5" cy="117.8" r="0.7" fill="#fff" opacity="0.85"/>
<circle cx="576.1" cy="108.1" r="0.5" fill="#fff" opacity="0.85"/>
<path d="M581.8 79.3C582.9 80.5 586.5 84.3 588.5 86.3C590.5 88.4 592.3 89.8 593.8 91.3C595.4 92.8 597.1 94.5 597.7 95.2" fill="none" stroke="#fff" stroke-width="1.6" stroke-linecap="round" opacity="0.95"/>
<text x="538.8" y="33.1" font-size="11.7" fill="#222" text-anchor="middle" font-weight="normal" font-style="normal" >STAGATE (n=7)</text>
<circle cx="624.5" cy="59.4" r="2.1" fill="#98a5c7"/>
<text x="633.6" y="62.7" font-size="9.2" fill="#222" text-anchor="start" font-weight="normal" font-style="normal" >7-0</text>
<circle cx="624.5" cy="73.8" r="2.1" fill="#c2d6d1"/>
<text x="633.6" y="77.1" font-size="9.2" fill="#222" text-anchor="start" font-weight="normal" font-style="normal" >7-1</text>
<circle cx="624.5" cy="88.1" r="2.1" fill="#b2b7b4"/>
<text x="633.6" y="91.4" font-size="9.2" fill="#222" text-anchor="start" font-weight="normal" font-style="normal" >7-2</text>
<circle cx="624.5" cy="102.5" r="2.1" fill="#d5dddf"/>
<text x="633.6" y="105.8" font-size="9.2" fill="#222" text-anchor="start" font-weight="normal" font-style="normal" >7-3</text>
<circle cx="624.5" cy="116.9" r="2.1" fill="#da8f7c"/>
<text x="633.6" y="120.2" font-size="9.2" fill="#222" text-anchor="start" font-weight="normal" font-style="normal" >7-4</text>
<circle cx="624.5" cy="131.2" r="2.1" fill="#d6cfd0"/>
<text x="633.6" y="134.6" font-size="9.2" fill="#222" text-anchor="start" font-weight="normal" font-style="normal" >7-5</text>
<circle cx="624.5" cy="145.6" r="2.1" fill="#d3c4bc"/>
<text x="633.6" y="148.9" font-size="9.2" fill="#222" text-anchor="start" font-weight="normal" font-style="normal" >7-6</text>
<g filter="url(#rough)">
<path d="M690.4 52.4 686.2 53.4 683.6 54.4 681.3 55.5 677.0 58.5 675.0 60.3 673.1 62.3 669.9 67.0 667.8 71.1 665.4 77.6 664.1 82.6 663.5 87.4 663.4 93.9 664.3 104.5 665.2 110.1 666.5 114.3 669.1 120.0 672.5 125.7 675.5 129.8 679.0 133.9 681.5 136.5 684.2 138.9 686.8 140.8 689.6 142.3 692.4 143.3 696.7 144.4 702.4 145.5 710.0 146.4 716.1 146.4 718.4 145.9 721.5 144.6 726.6 143.2 729.4 142.8 731.1 143.0 733.2 144.0 737.2 147.4 744.1 151.1 748.1 152.7 749.3 153.0 751.6 153.3 754.8 152.8 757.9 151.5 762.3 148.9 766.0 146.2 769.9 142.9 773.5 139.1 778.1 133.2 781.3 128.2 784.1 123.1 786.5 117.9 788.5 112.4 790.3 105.5 791.1 100.9 791.3 96.8 791.1 92.7 790.3 88.4 789.0 84.0 786.6 78.4 784.4 74.7 781.9 71.4 780.1 69.3 777.1 66.5 773.7 64.0 771.3 62.5 767.4 60.5 764.7 59.5 758.4 57.8 753.4 57.1 748.8 56.8 744.6 57.1 739.6 58.2 737.4 59.0 735.4 60.0 733.7 61.5 729.8 66.2 728.8 66.7 728.0 66.8 727.1 66.3 725.3 64.3 723.2 60.6 721.3 58.3 717.4 55.8 713.7 54.0 711.0 53.1 708.1 52.4 703.0 51.8 695.5 51.8Z" fill="#dbe5e8" fill-rule="evenodd" />
<path d="M708.1 139.1 708.2 140.1 708.6 141.2 709.9 143.1 712.6 145.4 714.4 146.5 715.8 147.0 716.5 147.0 717.9 146.7 720.7 145.2 722.2 144.7 726.6 143.7 729.4 143.3 731.1 143.5 732.7 144.2 737.0 147.8 738.1 148.3 739.3 148.2 740.4 147.9 741.3 147.2 741.6 146.7 741.8 145.3 741.3 143.3 740.0 140.5 735.2 131.9 733.7 128.4 733.2 126.7 732.0 121.2 730.5 112.3 728.4 102.7 727.4 99.2 727.0 98.6 726.6 98.4 726.3 98.6 725.7 100.2 724.1 107.8 723.1 110.8 721.0 114.9 709.8 133.9 708.6 136.6Z" fill="#dfcdc6" fill-rule="evenodd" />
<path d="M778.8 93.1 778.9 94.2 779.2 95.4 782.3 101.0 783.7 104.1 784.0 105.6 784.1 107.2 783.9 108.8 783.5 110.5 782.3 114.0 769.9 140.3 768.2 144.4 768.2 144.9 768.3 145.0 769.1 144.5 770.5 143.0 774.3 138.0 778.8 131.0 782.4 124.9 785.2 119.2 787.1 115.0 788.6 110.8 790.1 104.9 790.9 99.2 790.7 95.3 790.2 92.6 789.5 90.0 788.5 87.8 787.4 86.3 786.8 86.0 785.2 86.2 784.3 86.6 782.2 88.0 780.4 89.9 779.6 90.9Z" fill="#dcd0d6" fill-rule="evenodd" />
<path d="M693.9 53.7 689.0 54.5 686.0 55.5 683.2 56.8 680.6 58.3 678.3 59.9 676.3 61.8 674.4 63.9 672.9 66.2 671.5 68.6 670.1 72.6 669.5 75.5 669.1 78.5 669.0 81.4 669.2 84.3 669.6 86.9 670.4 89.5 673.1 95.7 675.0 99.1 679.6 105.2 680.7 107.4 681.3 109.9 682.0 118.6 682.5 121.5 684.2 127.1 686.4 132.2 687.8 134.4 689.5 136.2 691.3 137.9 693.2 139.2 696.3 140.6 698.4 140.9 700.7 141.0 704.1 140.3 706.3 139.4 708.4 138.1 710.3 136.2 712.1 133.9 714.6 129.8 716.8 125.1 718.2 121.6 719.9 115.8 721.3 109.7 723.6 97.0 724.7 86.2 725.0 78.4 724.9 72.8 724.1 67.8 723.6 66.3 722.3 63.7 721.5 62.5 719.7 60.4 718.7 59.4 716.4 57.8 713.6 56.4 711.9 55.7 706.1 54.4 699.7 53.6Z" fill="#e8806a" fill-rule="evenodd" />
<path d="M743.4 58.1 739.5 59.1 737.3 60.2 735.3 61.7 733.7 63.5 732.3 65.6 731.2 68.1 730.5 71.0 729.7 75.7 729.2 80.5 729.0 89.2 729.9 106.4 730.5 112.3 731.4 118.0 732.9 125.5 733.8 129.1 734.9 132.4 736.3 135.4 737.8 138.3 739.5 140.9 741.4 143.2 744.6 146.0 746.9 147.4 749.6 148.6 752.3 149.3 755.1 149.7 758.9 149.5 762.5 148.2 764.8 146.9 767.0 145.3 769.8 142.2 772.2 138.1 777.4 125.2 785.9 100.8 786.5 98.0 786.9 95.3 787.1 91.6 786.9 89.1 786.4 86.6 785.5 84.0 784.1 81.2 781.4 76.6 779.2 73.7 776.8 70.9 774.4 68.6 770.4 65.4 767.5 63.6 764.5 62.1 761.3 60.8 757.8 59.7 754.0 58.8 750.2 58.2 746.6 57.9Z" fill="#e8806a" fill-rule="evenodd" />
<path d="M683.3 56.3 684.0 57.0 685.9 57.8 689.8 58.9 693.9 59.8 696.6 60.1 704.1 60.5 706.9 60.9 709.2 61.7 711.3 62.7 713.2 63.9 714.9 65.4 716.9 68.3 717.4 69.5 718.2 72.5 718.6 75.8 719.5 85.8 719.9 95.9 720.5 99.3 721.1 100.5 722.0 101.1 723.0 101.1 724.0 100.5 724.7 99.3 725.0 98.4 725.8 92.9 726.3 85.9 726.5 76.9 726.4 73.0 726.0 69.4 725.1 66.2 722.8 62.1 720.8 59.7 718.5 57.7 717.2 56.8 714.3 55.2 710.6 54.1 704.1 53.1 695.6 52.7 690.8 53.1 688.0 53.7 685.6 54.6 683.9 55.5Z" fill="#e6ecec" fill-rule="evenodd" />
<path d="M778.8 74.7 777.8 74.4 777.1 74.7 776.6 75.4 776.6 77.0 777.0 78.0 777.5 78.6 780.3 81.5 781.7 83.2 782.7 85.1 783.3 87.3 783.9 90.9 784.0 94.8 783.6 98.8 783.0 101.6 781.8 105.8 778.3 116.4 775.8 122.9 773.2 129.1 768.1 138.1 767.1 140.3 766.8 141.2 766.9 142.5 767.5 143.4 768.5 143.7 769.7 143.5 770.3 143.1 771.5 141.8 773.5 138.3 777.3 130.4 780.6 122.4 786.9 105.3 788.2 101.2 788.7 98.4 789.1 94.0 789.0 91.0 788.5 86.8 787.7 84.2 786.3 81.8 784.4 79.5 781.2 76.5Z" fill="#f1d3ca" fill-rule="evenodd" />
<path d="M723.1 99.3 722.8 101.1 722.2 109.9 721.9 112.5 721.3 114.8 719.0 120.5 718.7 121.7 718.9 123.0 719.6 123.7 720.2 123.6 720.8 123.1 722.6 119.7 724.1 115.5 724.8 111.5 725.6 104.9 725.8 99.8 725.5 98.6 725.2 98.2 724.6 97.8 723.9 98.0 723.6 98.3Z" fill="#f0b9aa" fill-rule="evenodd" />
<path d="M694.9 56.1 690.6 56.9 687.9 57.8 685.4 58.9 683.1 60.3 681.1 61.7 679.3 63.4 677.7 65.2 676.3 67.2 675.1 69.4 673.9 72.8 673.3 75.4 673.0 78.1 673.1 83.4 673.5 85.6 674.1 87.9 677.2 94.8 678.4 96.7 682.3 101.8 683.8 104.2 684.4 105.6 685.2 108.9 686.0 118.9 687.4 124.1 689.4 129.1 690.5 131.1 691.8 132.7 693.2 134.2 694.8 135.4 696.4 136.4 698.0 137.0 699.5 137.2 701.2 137.3 703.9 136.8 705.7 136.1 707.2 135.0 708.8 133.5 710.4 131.5 712.7 127.7 714.8 123.3 716.0 120.0 717.7 114.5 719.1 108.4 721.4 96.0 722.5 85.5 722.7 77.8 722.6 72.5 721.9 68.1 720.4 64.7 718.3 62.0 715.5 59.8 711.8 58.1 706.4 56.8 700.3 56.1Z" fill="#e6ecec" fill-rule="evenodd" />
<path d="M694.0 57.7 690.0 58.4 687.6 59.2 685.4 60.3 683.4 61.6 681.5 63.1 679.0 65.8 677.0 69.0 675.0 73.4 674.0 78.1 674.0 82.9 674.3 85.2 674.8 87.6 677.2 93.6 679.0 97.1 683.6 103.9 685.5 107.6 686.1 110.4 686.4 117.9 686.8 120.2 688.3 125.0 689.9 128.4 692.1 131.9 694.4 134.2 695.7 134.9 697.0 135.4 700.2 135.7 703.0 135.2 704.7 134.5 706.3 133.6 707.7 132.1 709.1 130.2 711.1 126.7 713.0 122.6 714.1 119.6 715.6 114.5 716.9 109.0 718.4 101.1 719.5 94.6 720.2 88.1 720.5 84.2 720.6 78.6 720.4 73.5 719.6 69.2 718.1 65.7 716.1 63.1 713.3 61.0 709.7 59.4 704.7 58.2 699.0 57.6Z" fill="#c5ddd8" fill-rule="evenodd" />
<path d="M697.5 61.2 694.7 61.7 691.6 62.7 688.1 64.8 685.4 67.1 683.8 69.3 682.4 71.9 681.1 76.4 680.6 79.7 680.7 81.7 681.4 84.4 682.2 86.2 683.6 88.7 684.9 90.3 685.7 91.0 689.5 93.7 691.2 95.1 692.1 96.6 692.3 97.4 692.1 99.0 689.8 104.4 688.5 110.2 687.7 115.4 687.8 119.0 688.9 123.8 689.7 126.0 690.7 127.8 691.9 129.0 693.4 129.9 695.1 130.4 696.8 130.6 699.2 130.2 700.6 129.5 702.0 128.3 703.3 126.8 704.4 125.0 705.8 122.1 706.8 118.7 708.1 110.8 709.6 98.0 710.6 94.0 713.1 88.0 713.9 85.5 715.0 79.9 715.4 73.9 715.1 70.1 714.2 67.0 712.8 64.5 710.7 62.6 708.9 61.7 706.5 61.2 702.4 61.0Z" fill="#8b9bc9" fill-rule="evenodd" />
<path d="M698.3 65.7 696.3 66.4 693.0 68.2 691.0 69.7 688.6 71.8 687.6 73.2 686.6 75.3 686.1 77.5 685.9 79.6 686.3 82.6 687.7 86.0 688.6 87.1 691.6 89.5 692.6 90.6 693.4 92.0 694.2 94.5 694.6 97.3 694.8 100.1 694.6 102.2 693.1 109.7 693.0 113.0 693.2 117.6 693.7 120.6 694.5 122.6 695.1 123.6 695.9 124.3 696.7 124.8 697.5 124.9 698.2 124.8 698.9 124.3 700.0 123.2 701.0 121.4 702.2 117.8 703.9 109.5 704.8 100.7 705.4 96.6 706.0 94.3 708.3 88.2 709.0 86.0 710.2 79.6 710.7 74.6 710.6 71.8 710.1 69.4 709.1 67.5 708.1 66.5 706.6 65.8 703.6 65.3 700.4 65.3Z" fill="#a3b2ab" fill-rule="evenodd" />
<path d="M697.5 78.9 697.2 83.8 697.5 91.2 698.0 93.0 698.2 93.3 698.8 93.4 699.6 92.7 700.0 90.8 700.1 85.5 699.9 80.1 699.6 78.7 698.9 77.6 698.3 77.5 698.0 77.7Z" fill="#e9b9b9" fill-rule="evenodd" />
<path d="M744.0 60.6 741.8 61.0 739.9 61.8 738.3 62.8 737.0 64.0 735.7 65.6 734.8 67.4 734.0 69.8 733.4 72.5 732.5 80.1 732.3 88.6 733.2 105.5 733.8 111.3 734.7 116.9 736.1 124.2 738.0 130.7 739.2 133.5 740.7 136.1 743.0 139.5 744.8 141.4 746.6 142.9 749.7 144.6 752.0 145.4 754.3 145.9 756.5 146.0 758.5 145.8 760.4 145.2 762.4 144.3 765.1 142.3 767.5 139.7 768.9 137.5 770.2 134.8 775.4 121.8 783.1 99.3 783.7 96.9 784.1 93.3 784.1 90.0 783.8 87.9 782.8 84.6 781.6 82.0 778.0 76.4 775.9 73.7 773.7 71.3 771.4 69.3 768.8 67.4 766.2 65.7 763.4 64.3 760.5 63.1 757.2 62.1 753.7 61.2 750.0 60.7 746.7 60.4Z" fill="#e6ecec" fill-rule="evenodd" />
<path d="M743.6 62.6 741.8 63.0 740.0 64.0 739.1 65.0 737.6 67.2 736.7 69.1 735.9 71.5 735.2 74.2 734.4 78.5 733.9 84.5 734.1 93.0 734.8 106.3 736.0 115.8 737.4 122.6 739.2 128.7 740.9 132.7 743.7 137.3 745.3 139.2 747.0 140.8 749.6 142.6 751.6 143.5 753.7 144.2 755.6 144.4 757.4 144.4 759.0 144.0 760.7 143.2 762.3 142.1 763.9 140.7 765.4 139.1 766.7 137.2 769.0 132.6 774.6 118.8 779.9 103.0 780.9 98.9 781.5 95.2 781.7 91.8 781.6 88.8 781.1 86.7 780.2 84.5 778.3 80.8 776.6 78.3 774.7 75.9 772.6 73.7 770.2 71.7 767.6 69.8 761.8 66.5 758.9 65.2 755.8 64.2 752.4 63.4 749.1 62.8 746.0 62.5Z" fill="#c5ddd8" fill-rule="evenodd" />
<path d="M743.4 66.5 742.1 67.7 740.9 70.1 740.2 73.1 739.8 77.8 740.2 83.5 744.0 119.9 745.0 124.2 746.2 128.4 747.2 130.9 748.2 132.9 749.4 134.5 751.5 135.9 753.0 136.5 755.2 136.5 756.4 136.2 758.3 134.9 759.9 132.8 761.1 130.2 761.7 128.2 762.1 125.8 763.1 116.5 763.6 109.2 764.3 105.0 764.7 103.7 765.9 101.3 770.6 95.0 771.8 93.1 772.7 90.3 773.0 88.6 773.1 87.0 772.9 85.2 772.3 83.2 770.9 79.9 768.1 75.5 766.4 73.6 764.6 71.9 760.4 68.7 758.1 67.4 755.8 66.5 752.0 65.7 749.2 65.5 746.6 65.7 744.3 66.1Z" fill="#8b9bc9" fill-rule="evenodd" />
<path d="M746.1 71.0 745.1 71.8 744.2 73.5 743.7 75.6 743.4 78.7 748.8 122.4 749.6 126.7 750.6 128.8 751.3 129.8 752.4 130.8 753.2 131.1 754.3 131.1 755.4 130.6 756.1 129.7 756.7 128.4 757.4 125.5 758.6 114.7 758.7 105.8 759.4 101.9 759.8 100.8 761.0 98.8 764.5 94.6 765.6 93.1 766.6 90.9 767.3 88.9 767.4 87.5 767.3 86.0 766.2 82.5 764.1 78.8 761.6 75.6 758.4 72.9 756.7 71.8 754.9 71.0 752.2 70.3 750.2 70.2 748.3 70.3Z" fill="#a3b2ab" fill-rule="evenodd" />
<path d="M752.1 79.6 752.2 86.9 753.0 97.9 753.7 100.6 754.0 101.0 754.6 101.3 755.3 100.8 755.7 99.6 755.9 97.5 755.8 93.9 754.8 81.2 754.4 79.1 753.5 77.6 752.9 77.5 752.6 77.7Z" fill="#e9b9b9" fill-rule="evenodd" />
<path d="M688.6 55.0 688.1 55.8 688.0 56.1 688.3 56.8 689.4 57.5 690.4 57.7 691.6 57.5 696.1 56.0 699.2 55.6 704.2 56.0 708.2 56.7 710.6 57.3 712.5 58.1 714.3 59.3 717.6 62.3 718.7 63.0 719.7 63.2 720.6 63.1 721.3 62.7 721.6 62.1 721.0 60.7 719.2 58.2 717.5 56.4 715.5 54.6 714.5 53.9 712.2 52.8 708.0 51.5 704.9 50.9 701.9 50.6 698.0 50.8 695.4 51.5 692.9 52.5 690.8 53.6Z" fill="#bcc596" fill-rule="evenodd" />
<path d="M727.5 82.5 728.0 83.4 728.3 83.7 729.2 83.8 730.5 83.3 731.1 82.5 731.3 81.1 731.4 75.8 731.7 73.7 733.2 70.1 735.0 67.5 737.2 65.4 739.1 64.2 741.4 63.3 745.3 62.2 749.3 61.6 751.8 61.6 754.4 62.0 756.9 62.7 764.9 65.6 778.0 72.5 779.1 72.7 779.3 72.1 778.6 70.9 777.7 69.8 773.0 65.8 767.4 61.9 763.3 59.7 757.7 57.8 753.4 57.0 749.1 56.8 744.6 57.4 740.2 58.6 736.4 60.3 733.3 62.7 730.8 65.7 728.9 69.0 727.7 72.6 727.3 75.4 727.2 78.3Z" fill="#bcc596" fill-rule="evenodd" />
</g>
<circle cx="724.9" cy="141.7" r="0.9" fill="#fff" opacity="0.85"/>
<circle cx="693.0" cy="106.3" r="0.7" fill="#fff" opacity="0.85"/>
<circle cx="677.1" cy="73.6" r="0.5" fill="#fff" opacity="0.85"/>
<circle cx="713.4" cy="106.3" r="0.5" fill="#fff" opacity="0.85"/>
<circle cx="758.5" cy="117.8" r="0.7" fill="#fff" opacity="0.85"/>
<circle cx="761.1" cy="108.1" r="0.5" fill="#fff" opacity="0.85"/>
<path d="M766.8 79.3C767.9 80.5 771.5 84.3 773.5 86.3C775.5 88.4 777.3 89.8 778.8 91.3C780.4 92.8 782.1 94.5 782.7 95.2" fill="none" stroke="#fff" stroke-width="1.6" stroke-linecap="round" opacity="0.95"/>
<text x="723.0" y="33.1" font-size="11.7" fill="#222" text-anchor="middle" font-weight="normal" font-style="normal" >STAGATE (n=10)</text>
<circle cx="808.6" cy="37.2" r="2.1" fill="#9da8c9"/>
<text x="818.0" y="40.5" font-size="9.2" fill="#222" text-anchor="start" font-weight="normal" font-style="normal" >10-0</text>
<circle cx="808.6" cy="51.6" r="2.1" fill="#c5d6d4"/>
<text x="818.0" y="54.9" font-size="9.2" fill="#222" text-anchor="start" font-weight="normal" font-style="normal" >10-1</text>
<circle cx="808.6" cy="66.0" r="2.1" fill="#aeb8b4"/>
<text x="818.0" y="69.3" font-size="9.2" fill="#222" text-anchor="start" font-weight="normal" font-style="normal" >10-2</text>
<circle cx="808.6" cy="80.5" r="2.1" fill="#d5dcdf"/>
<text x="818.0" y="83.8" font-size="9.2" fill="#222" text-anchor="start" font-weight="normal" font-style="normal" >10-3</text>
<circle cx="808.6" cy="94.9" r="2.1" fill="#de9587"/>
<text x="818.0" y="98.2" font-size="9.2" fill="#222" text-anchor="start" font-weight="normal" font-style="normal" >10-4</text>
<circle cx="808.6" cy="109.3" r="2.1" fill="#d6cdd2"/>
<text x="818.0" y="112.6" font-size="9.2" fill="#222" text-anchor="start" font-weight="normal" font-style="normal" >10-5</text>
<circle cx="808.6" cy="123.7" r="2.1" fill="#d8cbc7"/>
<text x="818.0" y="127.0" font-size="9.2" fill="#222" text-anchor="start" font-weight="normal" font-style="normal" >10-6</text>
<circle cx="808.6" cy="138.1" r="2.1" fill="#dde1e2"/>
<text x="818.0" y="141.4" font-size="9.2" fill="#222" text-anchor="start" font-weight="normal" font-style="normal" >10-7</text>
<circle cx="808.6" cy="152.6" r="2.1" fill="#bfc5a6"/>
<text x="818.0" y="155.9" font-size="9.2" fill="#222" text-anchor="start" font-weight="normal" font-style="normal" >10-8</text>
<circle cx="808.6" cy="167.0" r="2.1" fill="#dfbdbe"/>
<text x="818.0" y="170.3" font-size="9.2" fill="#222" text-anchor="start" font-weight="normal" font-style="normal" >10-9</text>
<text x="7.7" y="203.8" font-size="12" fill="#111" text-anchor="start" font-weight="bold" font-style="normal" >c</text>
<g transform="translate(14.40,211.00) scale(0.5699,0.5565) translate(-20,-13)">
<use href="#dapi"/>
<rect x="20" y="13" width="193" height="168" fill="#46085f" opacity="0.1"/>
<path d="M81.4 49.1 78.2 49.9 74.1 51.9 69.6 54.5 67.0 56.8 63.8 62.7 62.7 69.1 63.9 75.8 69.4 86.9 72.4 97.1 73.5 103.8 74.2 119.0 75.7 131.2 76.5 133.2 78.4 135.5 80.5 136.7 82.5 137.0 85.3 136.4 87.5 135.0 89.9 132.1 91.8 127.8 92.8 122.5 93.5 97.8 94.4 90.1 96.2 84.9 100.0 78.5 104.5 69.3 105.7 66.0 106.0 63.1 105.5 59.0 104.2 55.8 101.9 53.1 99.4 51.3 96.5 49.9 92.8 49.1 86.6 48.8ZM145.5 54.8 143.4 57.1 141.9 61.1 141.3 65.3 141.2 72.7 142.3 93.1 145.9 128.8 147.2 135.2 149.4 140.8 152.4 144.1 155.7 145.0 158.3 143.8 161.4 140.7 163.6 137.4 165.6 133.2 181.7 86.0 182.6 81.4 182.7 76.0 181.2 69.9 177.7 63.2 173.7 58.3 169.2 54.9 163.3 52.6 156.4 51.5 150.2 52.6Z" fill="#43207a" opacity="0.4"/>
<path d="M85.3 62.0 84.2 63.2 83.2 66.1 82.5 69.6 82.2 73.8 82.6 82.0 83.9 95.3 84.3 119.3 84.6 120.9 85.0 121.4 85.5 120.5 85.8 117.9 87.5 86.2 89.2 73.1 88.9 68.8 88.1 65.4 86.7 62.9ZM158.7 68.3 157.9 70.1 157.3 72.9 156.7 79.3 158.2 101.3 158.6 125.2 158.8 127.6 159.5 128.5 160.0 127.9 160.4 126.4 161.4 109.9 162.3 102.9 164.0 94.0 164.7 83.1 163.9 76.5 162.7 72.0 161.7 70.0 160.5 68.4 159.3 67.9Z" fill="#f3a261" fill-rule="evenodd" opacity="0.95" filter="url(#rough1)"/>
</g>
<g transform="translate(132.20,211.00) scale(0.5699,0.5565) translate(-20,-13)">
<use href="#dapi"/>
<rect x="20" y="13" width="193" height="168" fill="#46085f" opacity="0.1"/>
<path d="M81.4 49.1 78.2 49.9 74.1 51.9 69.6 54.5 67.0 56.8 63.8 62.7 62.7 69.1 63.9 75.8 69.4 86.9 72.4 97.1 73.5 103.8 74.2 119.0 75.7 131.2 76.5 133.2 78.4 135.5 80.5 136.7 82.5 137.0 85.3 136.4 87.5 135.0 89.9 132.1 91.8 127.8 92.8 122.5 93.5 97.8 94.4 90.1 96.2 84.9 100.0 78.5 104.5 69.3 105.7 66.0 106.0 63.1 105.5 59.0 104.2 55.8 101.9 53.1 99.4 51.3 96.5 49.9 92.8 49.1 86.6 48.8ZM145.5 54.8 143.4 57.1 141.9 61.1 141.3 65.3 141.2 72.7 142.3 93.1 145.9 128.8 147.2 135.2 149.4 140.8 152.4 144.1 155.7 145.0 158.3 143.8 161.4 140.7 163.6 137.4 165.6 133.2 181.7 86.0 182.6 81.4 182.7 76.0 181.2 69.9 177.7 63.2 173.7 58.3 169.2 54.9 163.3 52.6 156.4 51.5 150.2 52.6Z" fill="#43207a" opacity="0.4"/>
<path d="M80.9 51.0 78.1 51.9 74.0 54.0 70.7 56.0 68.3 58.0 66.7 60.6 65.5 63.3 64.8 66.0 64.5 69.1 64.9 72.5 65.8 76.0 71.1 86.3 74.2 96.7 75.3 103.7 76.0 118.8 77.4 130.7 78.1 132.3 79.6 134.1 81.1 135.0 82.5 135.2 85.2 134.5 86.8 133.2 88.8 130.2 90.1 127.2 91.0 122.4 91.7 97.7 92.6 89.8 94.5 84.4 98.4 77.7 102.8 68.6 103.9 65.6 104.2 63.1 103.8 59.5 102.7 56.8 100.7 54.4 97.6 52.4 95.0 51.4 91.2 50.8 85.2 50.6ZM86.4 61.0 88.0 62.7 89.4 65.6 90.2 69.5 90.4 74.0 88.5 88.7 86.9 119.5 86.3 121.7 85.7 122.3 84.9 122.6 84.2 122.4 83.7 121.8 83.1 119.4 82.7 95.4 81.4 82.1 81.1 72.8 81.7 67.1 82.9 63.1 84.5 61.1 85.4 60.8ZM146.8 57.3 145.8 58.5 144.8 61.0 144.1 66.7 144.2 80.1 145.4 96.9 147.4 113.4 148.7 128.5 149.5 133.2 150.6 136.8 152.2 140.0 153.6 141.5 155.4 142.2 157.2 141.1 159.9 138.0 161.8 134.9 163.6 130.5 175.0 96.2 179.0 85.2 179.8 81.1 179.9 76.3 178.5 70.9 175.3 64.7 171.8 60.2 167.9 57.4 162.6 55.3 156.4 54.3 151.1 55.2ZM159.1 66.7 160.1 66.8 161.4 67.6 162.7 69.3 163.9 71.6 165.3 77.4 165.9 84.3 165.2 94.2 163.5 103.1 162.6 110.1 161.6 126.5 160.8 128.9 159.5 129.7 158.6 129.5 158.1 128.9 157.4 126.3 157.0 101.4 155.5 79.3 155.8 74.8 156.8 69.8 157.8 67.6Z" fill="#a48fdc" fill-rule="evenodd" opacity="0.95" filter="url(#rough1)"/>
</g>
<g transform="translate(250.00,211.00) scale(0.5699,0.5565) translate(-20,-13)">
<use href="#dapi"/>
<rect x="20" y="13" width="193" height="168" fill="#46085f" opacity="0.1"/>
<path d="M81.4 49.1 78.2 49.9 74.1 51.9 69.6 54.5 67.0 56.8 63.8 62.7 62.7 69.1 63.9 75.8 69.4 86.9 72.4 97.1 73.5 103.8 74.2 119.0 75.7 131.2 76.5 133.2 78.4 135.5 80.5 136.7 82.5 137.0 85.3 136.4 87.5 135.0 89.9 132.1 91.8 127.8 92.8 122.5 93.5 97.8 94.4 90.1 96.2 84.9 100.0 78.5 104.5 69.3 105.7 66.0 106.0 63.1 105.5 59.0 104.2 55.8 101.9 53.1 99.4 51.3 96.5 49.9 92.8 49.1 86.6 48.8ZM145.5 54.8 143.4 57.1 141.9 61.1 141.3 65.3 141.2 72.7 142.3 93.1 145.9 128.8 147.2 135.2 149.4 140.8 152.4 144.1 155.7 145.0 158.3 143.8 161.4 140.7 163.6 137.4 165.6 133.2 181.7 86.0 182.6 81.4 182.7 76.0 181.2 69.9 177.7 63.2 173.7 58.3 169.2 54.9 163.3 52.6 156.4 51.5 150.2 52.6Z" fill="#43207a" opacity="0.4"/>
<path d="M80.6 43.0 76.0 44.1 71.1 46.4 66.0 49.5 62.4 52.7 60.1 55.8 58.0 60.6 56.7 65.6 56.5 69.2 56.8 72.9 58.0 77.7 59.5 81.2 63.2 88.0 64.9 93.0 66.3 98.3 67.5 106.1 67.9 117.6 68.8 127.3 69.4 131.5 70.1 134.1 72.0 137.5 75.4 140.9 77.4 142.1 79.3 142.8 82.8 143.2 85.3 142.9 87.6 142.2 89.9 141.0 91.7 139.6 95.2 135.3 97.7 129.8 98.5 126.6 99.0 123.0 99.7 98.0 100.5 91.4 101.8 87.7 105.5 81.3 110.8 70.4 112.0 66.0 112.2 61.8 111.2 56.3 109.5 52.6 107.0 49.4 102.5 45.9 98.4 44.0 93.7 43.0 86.6 42.6ZM85.2 50.6 89.7 50.7 93.9 51.1 96.8 52.0 99.3 53.3 101.3 55.0 103.0 57.3 104.0 60.3 104.2 63.1 103.9 65.6 102.8 68.6 98.4 77.7 94.5 84.4 92.6 89.8 91.7 97.7 91.0 122.4 90.1 127.2 88.3 131.1 86.3 133.7 84.7 134.7 82.0 135.2 80.8 134.9 79.2 133.7 78.1 132.3 77.4 130.7 76.0 118.8 75.3 103.7 74.2 96.7 71.1 86.3 65.6 75.2 64.7 71.6 64.5 68.3 65.0 65.1 66.3 61.4 67.9 58.5 69.3 57.0 73.1 54.5 78.1 51.9 80.9 51.0ZM142.5 50.5 140.8 51.9 139.4 53.6 137.5 57.5 136.4 62.3 136.0 67.9 136.1 78.4 136.9 91.4 141.0 131.4 141.7 135.1 143.1 139.6 144.9 143.4 146.4 145.5 148.7 147.9 150.7 149.1 153.8 150.1 156.2 150.2 159.4 149.2 163.5 146.1 167.3 141.4 170.5 135.1 186.6 87.4 187.5 83.8 187.9 80.4 187.6 74.0 186.0 68.0 183.9 63.5 182.0 60.3 177.4 54.5 174.7 52.2 171.6 50.3 164.8 47.6 159.6 46.5 156.4 46.3 153.1 46.5 148.6 47.6 145.8 48.7ZM149.1 56.0 153.2 54.6 157.4 54.3 164.0 55.7 169.0 58.0 172.7 61.2 176.1 66.0 178.5 70.9 179.9 76.3 179.8 81.1 179.0 85.2 175.0 96.2 163.6 130.5 161.8 134.9 159.9 138.0 157.2 141.1 155.4 142.2 153.6 141.5 151.8 139.4 150.2 135.7 149.2 131.8 144.7 88.6 144.0 74.4 144.3 63.4 144.8 61.0 146.0 58.1 147.1 57.1Z" fill="#e4645a" fill-rule="evenodd" opacity="0.95" filter="url(#rough1)"/>
</g>
<g transform="translate(367.80,211.00) scale(0.5699,0.5565) translate(-20,-13)">
<use href="#dapi"/>
<rect x="20" y="13" width="193" height="168" fill="#46085f" opacity="0.1"/>
<path d="M81.4 49.1 78.2 49.9 74.1 51.9 69.6 54.5 67.0 56.8 63.8 62.7 62.7 69.1 63.9 75.8 69.4 86.9 72.4 97.1 73.5 103.8 74.2 119.0 75.7 131.2 76.5 133.2 78.4 135.5 80.5 136.7 82.5 137.0 85.3 136.4 87.5 135.0 89.9 132.1 91.8 127.8 92.8 122.5 93.5 97.8 94.4 90.1 96.2 84.9 100.0 78.5 104.5 69.3 105.7 66.0 106.0 63.1 105.5 59.0 104.2 55.8 101.9 53.1 99.4 51.3 96.5 49.9 92.8 49.1 86.6 48.8ZM145.5 54.8 143.4 57.1 141.9 61.1 141.3 65.3 141.2 72.7 142.3 93.1 145.9 128.8 147.2 135.2 149.4 140.8 152.4 144.1 155.7 145.0 158.3 143.8 161.4 140.7 163.6 137.4 165.6 133.2 181.7 86.0 182.6 81.4 182.7 76.0 181.2 69.9 177.7 63.2 173.7 58.3 169.2 54.9 163.3 52.6 156.4 51.5 150.2 52.6Z" fill="#43207a" opacity="0.15"/>
<path d="M80.4 41.6 75.6 42.8 70.5 45.2 65.2 48.4 61.4 51.7 58.9 55.2 56.7 60.1 55.3 65.4 55.1 69.4 55.5 73.2 56.6 78.2 58.2 81.8 61.9 88.6 63.6 93.4 65.0 98.6 66.1 106.2 66.5 117.7 67.4 127.5 68.0 131.8 68.8 134.5 70.9 138.4 72.6 140.4 74.6 142.1 76.8 143.4 78.9 144.2 82.8 144.6 85.4 144.3 88.0 143.5 91.8 141.4 95.6 137.2 98.5 131.7 99.9 126.9 100.3 123.1 101.1 98.1 101.8 91.7 103.0 88.3 106.7 82.0 112.1 70.9 113.4 66.3 113.6 61.7 112.5 55.9 110.8 51.9 107.9 48.4 103.3 44.8 98.8 42.7 93.9 41.6 86.6 41.2ZM85.0 45.4 91.6 45.6 96.3 46.3 100.0 47.7 103.2 49.8 105.8 52.2 107.7 55.0 108.8 58.2 109.4 63.1 109.0 66.8 107.6 70.7 103.0 80.1 99.3 86.5 97.7 90.8 96.9 97.9 96.2 122.8 95.8 126.1 95.0 128.9 92.8 133.8 91.4 135.8 89.1 138.1 85.6 139.9 81.8 140.4 79.3 139.9 76.2 138.0 73.6 135.0 72.4 132.1 71.7 128.4 70.8 119.2 70.1 104.1 69.1 97.7 67.6 92.2 65.8 87.0 62.0 79.9 60.6 76.8 59.6 72.4 59.3 68.1 59.9 63.8 61.5 59.3 63.8 55.4 65.9 53.1 70.5 50.0 77.0 46.7 81.0 45.7ZM141.8 49.3 138.9 52.0 136.7 55.9 135.2 60.7 134.7 66.4 134.7 76.5 135.5 91.5 139.6 131.6 140.4 135.5 141.8 140.1 143.7 144.0 145.3 146.4 147.8 148.9 150.2 150.4 153.5 151.5 156.4 151.6 160.1 150.4 162.2 149.1 164.4 147.2 168.4 142.2 171.0 137.3 173.2 131.7 183.9 99.2 188.0 87.8 188.9 84.1 189.3 80.5 189.0 73.8 187.3 67.4 185.2 62.8 183.2 59.5 178.3 53.5 175.5 51.0 172.3 49.1 165.1 46.2 159.9 45.1 156.3 44.9 152.9 45.1 148.2 46.3 145.2 47.4ZM147.0 51.2 152.2 49.5 155.0 49.1 157.8 49.1 162.4 49.8 165.7 50.8 171.8 53.6 174.3 55.5 176.6 57.8 180.6 63.3 182.2 66.2 183.9 70.4 185.1 75.8 185.0 81.7 184.0 86.6 167.9 134.0 165.7 138.6 162.4 143.2 158.9 146.3 157.3 147.1 155.9 147.4 152.7 146.9 150.5 145.7 149.1 144.5 146.8 141.0 144.9 135.9 143.5 129.1 142.2 113.9 140.1 95.3 138.8 74.5 138.9 66.5 139.3 61.6 140.5 57.6 142.2 54.5 144.1 52.8Z" fill="#4a7fcb" fill-rule="evenodd" opacity="0.75" filter="url(#rough1)"/>
</g>
<g transform="translate(485.60,211.00) scale(0.5699,0.5565) translate(-20,-13)">
<use href="#dapi"/>
<rect x="20" y="13" width="193" height="168" fill="#46085f" opacity="0.1"/>
<path d="M81.4 49.1 78.2 49.9 74.1 51.9 69.6 54.5 67.0 56.8 63.8 62.7 62.7 69.1 63.9 75.8 69.4 86.9 72.4 97.1 73.5 103.8 74.2 119.0 75.7 131.2 76.5 133.2 78.4 135.5 80.5 136.7 82.5 137.0 85.3 136.4 87.5 135.0 89.9 132.1 91.8 127.8 92.8 122.5 93.5 97.8 94.4 90.1 96.2 84.9 100.0 78.5 104.5 69.3 105.7 66.0 106.0 63.1 105.5 59.0 104.2 55.8 101.9 53.1 99.4 51.3 96.5 49.9 92.8 49.1 86.6 48.8ZM145.5 54.8 143.4 57.1 141.9 61.1 141.3 65.3 141.2 72.7 142.3 93.1 145.9 128.8 147.2 135.2 149.4 140.8 152.4 144.1 155.7 145.0 158.3 143.8 161.4 140.7 163.6 137.4 165.6 133.2 181.7 86.0 182.6 81.4 182.7 76.0 181.2 69.9 177.7 63.2 173.7 58.3 169.2 54.9 163.3 52.6 156.4 51.5 150.2 52.6Z" fill="#43207a" opacity="0.15"/>
<path d="M77.3 37.0 72.3 38.1 66.5 40.7 60.0 44.5 55.2 48.6 52.0 53.1 49.5 58.7 47.9 64.8 47.6 69.9 48.0 74.3 49.4 80.1 50.7 83.2 54.8 90.9 57.6 99.9 58.6 106.9 59.2 120.1 60.1 129.7 60.7 133.4 61.7 137.0 63.1 139.7 65.1 142.6 69.3 146.5 72.3 148.2 74.9 149.2 80.2 149.8 85.9 148.8 89.3 147.4 91.8 145.8 94.5 143.4 96.8 140.6 98.7 137.5 100.3 134.0 101.7 129.8 102.6 123.9 103.4 98.7 104.0 93.1 104.8 90.8 108.5 84.4 114.1 72.8 115.6 67.5 115.9 61.9 115.5 58.4 114.7 54.9 112.5 49.9 109.1 45.5 104.5 41.6 99.5 39.0 93.7 37.3 85.8 36.6ZM83.3 42.1 90.1 42.1 95.5 42.7 100.0 44.0 104.1 46.2 108.3 50.0 110.7 53.4 112.2 57.5 112.8 63.2 112.3 67.5 111.3 70.6 106.0 81.6 102.3 88.0 101.0 91.5 100.3 98.1 99.5 123.1 99.1 126.7 97.7 131.4 94.8 136.9 93.1 139.1 91.1 140.9 89.1 142.2 86.7 143.1 84.2 143.7 81.7 143.8 78.3 143.1 74.9 141.3 71.5 137.9 69.5 134.3 68.8 131.6 68.2 127.4 67.3 117.7 66.9 106.2 65.7 98.4 64.4 93.2 62.7 88.3 58.9 81.5 57.4 77.9 56.2 72.9 55.9 68.1 56.4 64.2 57.9 59.1 60.3 54.4 62.8 51.3 67.8 47.7 74.7 44.0 79.1 42.6ZM141.7 45.5 138.0 48.8 135.2 53.3 133.3 58.9 132.4 66.4 132.4 77.0 133.3 92.2 137.7 134.6 139.2 140.4 141.2 145.2 143.1 148.5 146.0 151.9 149.3 154.4 153.4 156.2 156.9 156.8 160.7 156.6 165.2 155.0 167.6 153.4 170.4 151.1 175.1 145.3 178.2 139.5 180.4 133.6 195.8 87.6 196.8 80.8 196.8 76.9 196.4 73.1 195.6 69.4 193.8 64.4 192.0 60.6 188.8 55.6 186.1 52.2 183.0 49.1 180.8 47.3 177.0 45.0 173.1 43.2 167.3 41.3 162.8 40.5 158.6 40.3 154.6 40.6 149.4 41.9 145.7 43.3ZM144.4 48.7 148.3 47.1 151.4 46.2 154.8 45.7 157.9 45.7 161.5 46.2 166.7 47.6 170.3 49.0 173.5 50.7 176.4 52.8 179.1 55.5 183.5 61.6 185.3 64.8 187.1 69.2 188.4 75.4 188.4 82.0 187.2 87.6 183.2 99.0 172.4 131.5 170.3 137.0 167.8 141.8 163.9 146.6 159.7 149.7 156.3 150.8 153.7 150.7 150.5 149.7 148.3 148.3 145.8 145.8 143.7 142.5 142.1 138.5 140.8 133.5 140.2 129.5 136.2 89.3 135.5 76.4 135.5 65.0 136.3 59.6 138.3 54.3 139.5 52.5 141.1 50.8Z" fill="#49d27c" fill-rule="evenodd" opacity="0.95" filter="url(#rough1)"/>
</g>
<g transform="translate(603.40,211.00) scale(0.5699,0.5565) translate(-20,-13)">
<use href="#dapi"/>
<rect x="20" y="13" width="193" height="168" fill="#46085f" opacity="0.1"/>
<path d="M81.4 49.1 78.2 49.9 74.1 51.9 69.6 54.5 67.0 56.8 63.8 62.7 62.7 69.1 63.9 75.8 69.4 86.9 72.4 97.1 73.5 103.8 74.2 119.0 75.7 131.2 76.5 133.2 78.4 135.5 80.5 136.7 82.5 137.0 85.3 136.4 87.5 135.0 89.9 132.1 91.8 127.8 92.8 122.5 93.5 97.8 94.4 90.1 96.2 84.9 100.0 78.5 104.5 69.3 105.7 66.0 106.0 63.1 105.5 59.0 104.2 55.8 101.9 53.1 99.4 51.3 96.5 49.9 92.8 49.1 86.6 48.8ZM145.5 54.8 143.4 57.1 141.9 61.1 141.3 65.3 141.2 72.7 142.3 93.1 145.9 128.8 147.2 135.2 149.4 140.8 152.4 144.1 155.7 145.0 158.3 143.8 161.4 140.7 163.6 137.4 165.6 133.2 181.7 86.0 182.6 81.4 182.7 76.0 181.2 69.9 177.7 63.2 173.7 58.3 169.2 54.9 163.3 52.6 156.4 51.5 150.2 52.6Z" fill="#43207a" opacity="0.15"/>
<path d="M75.1 32.2 68.9 33.6 62.5 36.4 54.8 41.0 49.6 45.5 45.9 50.6 42.7 57.5 40.9 64.6 40.5 70.9 41.0 76.0 42.6 82.6 44.2 86.4 48.2 93.8 50.6 101.8 51.5 108.0 52.1 121.1 53.0 131.4 54.0 136.6 55.6 141.0 57.2 144.0 59.9 147.5 62.9 150.5 65.6 152.4 68.5 154.0 71.6 155.1 75.3 155.8 78.6 156.0 82.9 155.5 86.1 154.7 90.4 152.9 93.4 151.0 96.0 148.8 98.8 145.6 101.2 142.1 103.2 138.3 105.3 132.6 106.3 126.9 107.3 99.6 107.8 95.1 108.4 93.4 111.9 87.5 117.7 75.3 119.4 69.2 119.8 62.5 118.7 55.3 116.3 48.9 114.4 45.9 112.4 43.4 109.9 40.9 106.5 38.2 99.9 34.6 93.7 32.7 84.6 31.8ZM80.5 36.7 88.0 36.7 95.7 37.8 101.2 39.8 106.0 42.7 110.3 46.8 113.3 51.5 114.5 54.4 115.4 57.9 115.9 63.7 115.3 68.8 114.0 73.1 108.5 84.4 104.8 90.8 104.0 93.1 103.4 98.7 102.5 125.6 101.6 130.3 99.8 135.4 97.8 139.0 95.7 142.0 93.3 144.6 90.9 146.5 88.6 147.8 85.3 149.0 82.5 149.6 79.1 149.8 74.0 148.9 71.7 147.9 68.8 146.1 66.3 143.9 64.4 141.7 61.7 137.0 60.7 133.4 60.1 129.7 59.2 120.1 58.6 106.9 57.6 99.9 54.8 90.9 50.7 83.2 49.3 79.7 48.0 74.0 47.6 68.4 48.2 63.3 50.0 57.2 52.8 51.7 56.4 47.4 62.1 43.1 69.8 39.1 75.3 37.3ZM140.3 41.6 137.7 43.6 135.5 45.9 132.1 51.0 129.7 57.6 128.6 65.1 128.5 77.7 129.2 91.1 133.0 129.6 133.9 136.3 135.7 143.2 138.1 148.9 140.9 153.4 144.6 157.3 149.1 160.4 153.3 162.1 158.0 163.0 163.1 162.7 165.8 162.1 169.5 160.5 174.8 156.7 177.7 153.7 180.3 150.3 182.7 146.6 184.8 142.3 187.2 136.1 202.7 89.8 203.7 84.8 204.0 80.1 203.8 75.7 203.2 71.3 202.0 67.1 200.3 62.5 197.5 57.1 194.6 52.7 191.4 48.8 187.7 45.1 184.1 42.5 179.5 40.0 174.9 38.1 169.7 36.6 165.0 35.7 160.0 35.5 155.2 35.9 149.4 37.3 144.9 39.0ZM144.5 43.9 149.0 42.0 152.7 41.0 156.6 40.4 160.7 40.3 164.9 40.8 169.3 41.9 173.4 43.3 177.5 45.2 181.3 47.7 184.3 50.2 187.3 53.6 189.8 57.1 192.1 60.9 194.4 65.9 195.7 69.8 196.5 73.5 196.9 77.3 196.8 81.2 196.4 85.0 195.3 89.4 191.1 101.1 180.4 133.6 178.0 139.8 176.3 143.3 174.2 146.5 169.4 152.0 166.7 154.1 164.5 155.3 159.7 156.7 155.9 156.7 151.7 155.6 148.7 154.0 145.3 151.2 142.8 148.1 140.5 143.7 138.7 138.6 137.4 132.5 132.9 87.8 132.3 75.0 132.5 63.5 133.7 57.3 136.1 51.5 138.0 48.8 139.8 46.9Z" fill="#a38e6e" fill-rule="evenodd" opacity="0.85" filter="url(#rough1)"/>
</g>
<g transform="translate(721.20,211.00) scale(0.5699,0.5565) translate(-20,-13)">
<use href="#dapi"/>
<rect x="20" y="13" width="193" height="168" fill="#46085f" opacity="0.1"/>
<path d="M81.4 49.1 78.2 49.9 74.1 51.9 69.6 54.5 67.0 56.8 63.8 62.7 62.7 69.1 63.9 75.8 69.4 86.9 72.4 97.1 73.5 103.8 74.2 119.0 75.7 131.2 76.5 133.2 78.4 135.5 80.5 136.7 82.5 137.0 85.3 136.4 87.5 135.0 89.9 132.1 91.8 127.8 92.8 122.5 93.5 97.8 94.4 90.1 96.2 84.9 100.0 78.5 104.5 69.3 105.7 66.0 106.0 63.1 105.5 59.0 104.2 55.8 101.9 53.1 99.4 51.3 96.5 49.9 92.8 49.1 86.6 48.8ZM145.5 54.8 143.4 57.1 141.9 61.1 141.3 65.3 141.2 72.7 142.3 93.1 145.9 128.8 147.2 135.2 149.4 140.8 152.4 144.1 155.7 145.0 158.3 143.8 161.4 140.7 163.6 137.4 165.6 133.2 181.7 86.0 182.6 81.4 182.7 76.0 181.2 69.9 177.7 63.2 173.7 58.3 169.2 54.9 163.3 52.6 156.4 51.5 150.2 52.6Z" fill="#43207a" opacity="0.15"/>
<path d="M42.4 58.5 39.7 65.5 36.7 75.0 35.5 80.6 34.9 85.3 34.5 92.0 34.6 98.8 35.4 107.0 36.6 113.5 38.2 118.4 40.3 123.1 42.9 127.8 47.1 134.1 52.6 141.0 57.2 146.0 60.5 149.0 62.2 150.2 64.8 151.8 61.3 149.0 57.9 145.0 55.6 141.0 54.0 136.6 52.8 129.4 52.1 121.1 51.5 108.0 50.6 101.8 48.2 93.8 44.7 87.5 43.0 83.7 40.9 75.5 40.5 70.9 40.6 67.2 41.2 62.8ZM72.1 155.3 77.3 157.9 84.6 162.9 87.3 163.9 90.2 164.3 94.9 164.2 100.3 162.9 103.5 161.0 105.8 158.2 107.2 162.4 108.9 165.3 110.9 167.3 113.3 168.4 116.3 167.9 126.5 163.2 129.4 163.2 132.0 164.5 136.8 167.9 137.9 168.3 139.1 168.3 144.6 171.8 148.9 173.3 152.3 173.9 155.4 173.9 158.5 173.6 165.7 171.3 171.9 168.5 178.4 164.3 183.1 160.1 187.3 155.2 191.2 149.5 194.6 143.4 197.7 137.0 201.1 128.0 203.9 118.8 205.5 111.9 206.7 104.9 207.5 96.2 207.6 90.2 207.1 84.5 205.9 77.3 204.0 70.4 202.0 65.2 199.3 60.0 199.1 60.0 201.1 64.5 202.5 68.5 203.7 75.0 203.9 82.3 202.7 89.8 187.2 136.1 184.8 142.3 182.4 147.2 179.1 152.0 175.7 155.8 172.4 158.6 167.4 161.5 163.1 162.7 159.5 163.0 154.6 162.5 150.2 160.9 145.3 157.9 142.2 155.0 139.1 150.7 137.2 147.0 135.7 143.2 134.4 138.6 133.6 134.4 129.9 99.8 128.9 86.0 121.0 86.0 108.6 93.1 108.2 93.9 107.4 98.1 106.6 122.7 105.8 130.1 104.6 134.8 102.9 138.9 100.8 142.8 98.3 146.3 96.0 148.8 93.4 151.0 90.4 152.9 87.1 154.4 83.9 155.3 79.6 155.9 76.3 155.9Z" fill="#e9a6df" fill-rule="evenodd" opacity="0.95" filter="url(#rough1)"/>
</g>
<text x="205.0" y="339.0" font-size="12" fill="#111" text-anchor="start" font-weight="bold" font-style="normal" >d</text>
<rect x="280.7" y="338.4" width="499.3" height="118.2" fill="#fff" stroke="#d6d6d6" stroke-width="0.9"/>
<circle cx="294.7" cy="345.5" r="5.4" fill="#e2775b" stroke="#cf6a52" stroke-width="0.7"/>
<circle cx="294.7" cy="360.2" r="5.2" fill="#e2775b" stroke="#cf6a52" stroke-width="0.7"/>
<circle cx="324.1" cy="345.5" r="0.4" fill="#b5bebe" stroke="#a3afaf" stroke-width="0.7"/>
<circle cx="324.1" cy="360.2" r="5.3" fill="#c6dad6" stroke="#9fb9b4" stroke-width="0.7"/>
<circle cx="324.1" cy="374.8" r="6.0" fill="#c6dad6" stroke="#9fb9b4" stroke-width="0.7"/>
<circle cx="324.1" cy="389.5" r="1.3" fill="#b5bebe" stroke="#a3afaf" stroke-width="0.7"/>
<circle cx="324.1" cy="448.1" r="0.4" fill="#b5bebe" stroke="#a3afaf" stroke-width="0.7"/>
<circle cx="353.5" cy="374.8" r="2.4" fill="#dfc7cf" stroke="#c9a9b5" stroke-width="0.7"/>
<circle cx="353.5" cy="389.5" r="7.2" fill="#dfc7cf" stroke="#c9a9b5" stroke-width="0.7"/>
<circle cx="353.5" cy="404.1" r="1.0" fill="#c0b5bb" stroke="#b6a8b0" stroke-width="0.7"/>
<circle cx="353.5" cy="448.1" r="0.4" fill="#c0b5bb" stroke="#b6a8b0" stroke-width="0.7"/>
<circle cx="383.0" cy="374.8" r="1.0" fill="#8e99b3" stroke="#8691ab" stroke-width="0.7"/>
<circle cx="383.0" cy="389.5" r="3.6" fill="#6f88bd" stroke="#5d76ab" stroke-width="0.7"/>
<circle cx="383.0" cy="404.1" r="6.0" fill="#6f88bd" stroke="#5d76ab" stroke-width="0.7"/>
<circle cx="383.0" cy="418.8" r="2.0" fill="#8e99b3" stroke="#8691ab" stroke-width="0.7"/>
<circle cx="383.0" cy="448.1" r="1.5" fill="#8e99b3" stroke="#8691ab" stroke-width="0.7"/>
<circle cx="412.4" cy="404.1" r="1.3" fill="#c0c5c7" stroke="#a8b3b5" stroke-width="0.7"/>
<circle cx="412.4" cy="418.8" r="7.0" fill="#dfe9e9" stroke="#a9c1c1" stroke-width="0.7"/>
<circle cx="412.4" cy="433.5" r="2.7" fill="#dfe9e9" stroke="#a9c1c1" stroke-width="0.7"/>
<circle cx="412.4" cy="448.1" r="1.0" fill="#c0c5c7" stroke="#a8b3b5" stroke-width="0.7"/>
<circle cx="441.8" cy="418.8" r="2.1" fill="#a3a5a7" stroke="#9b9e9f" stroke-width="0.7"/>
<circle cx="441.8" cy="433.5" r="7.0" fill="#9ea3a2" stroke="#8d9291" stroke-width="0.7"/>
<circle cx="441.8" cy="448.1" r="2.4" fill="#9ea3a2" stroke="#8d9291" stroke-width="0.7"/>
<circle cx="471.2" cy="389.5" r="1.8" fill="#beb2aa" stroke="#b4a8a1" stroke-width="0.7"/>
<circle cx="471.2" cy="404.1" r="2.6" fill="#d9bfa9" stroke="#c4a994" stroke-width="0.7"/>
<circle cx="471.2" cy="418.8" r="3.7" fill="#d9bfa9" stroke="#c4a994" stroke-width="0.7"/>
<circle cx="471.2" cy="433.5" r="0.8" fill="#beb2aa" stroke="#b4a8a1" stroke-width="0.7"/>
<circle cx="471.2" cy="448.1" r="6.5" fill="#d9bfa9" stroke="#c4a994" stroke-width="0.7"/>
<circle cx="500.6" cy="345.5" r="7.0" fill="#eebdbd" stroke="#d9a3a3" stroke-width="0.7"/>
<circle cx="530.1" cy="345.5" r="3.4" fill="#9aa5a1" stroke="#879390" stroke-width="0.7"/>
<circle cx="530.1" cy="360.2" r="6.2" fill="#9aa5a1" stroke="#879390" stroke-width="0.7"/>
<circle cx="530.1" cy="374.8" r="1.2" fill="#a1a6a7" stroke="#999e9f" stroke-width="0.7"/>
<circle cx="559.5" cy="360.2" r="3.0" fill="#6c86c4" stroke="#5a73b0" stroke-width="0.7"/>
<circle cx="559.5" cy="374.8" r="6.4" fill="#6c86c4" stroke="#5a73b0" stroke-width="0.7"/>
<circle cx="559.5" cy="389.5" r="1.6" fill="#8d98b6" stroke="#8490ad" stroke-width="0.7"/>
<circle cx="588.9" cy="374.8" r="2.6" fill="#f6e0da" stroke="#d9a59a" stroke-width="0.7"/>
<circle cx="588.9" cy="389.5" r="6.8" fill="#f6e0da" stroke="#d9a59a" stroke-width="0.7"/>
<circle cx="588.9" cy="404.1" r="1.1" fill="#cbc1c0" stroke="#bea6a3" stroke-width="0.7"/>
<circle cx="618.3" cy="374.8" r="1.2" fill="#b4bebd" stroke="#a4b1b0" stroke-width="0.7"/>
<circle cx="618.3" cy="389.5" r="4.9" fill="#c3dad3" stroke="#a1bdb5" stroke-width="0.7"/>
<circle cx="618.3" cy="404.1" r="5.5" fill="#c3dad3" stroke="#a1bdb5" stroke-width="0.7"/>
<circle cx="618.3" cy="418.8" r="0.8" fill="#b4bebd" stroke="#a4b1b0" stroke-width="0.7"/>
<circle cx="618.3" cy="448.1" r="1.5" fill="#b4bebd" stroke="#a4b1b0" stroke-width="0.7"/>
<circle cx="647.7" cy="389.5" r="0.9" fill="#bfb6bd" stroke="#b4a8b0" stroke-width="0.7"/>
<circle cx="647.7" cy="404.1" r="6.6" fill="#ddc8d2" stroke="#c4a8b6" stroke-width="0.7"/>
<circle cx="647.7" cy="418.8" r="3.4" fill="#ddc8d2" stroke="#c4a8b6" stroke-width="0.7"/>
<circle cx="647.7" cy="448.1" r="0.7" fill="#bfb6bd" stroke="#b4a8b0" stroke-width="0.7"/>
<circle cx="677.2" cy="404.1" r="1.0" fill="#c39084" stroke="#ba897f" stroke-width="0.7"/>
<circle cx="677.2" cy="418.8" r="6.2" fill="#e57454" stroke="#d0654a" stroke-width="0.7"/>
<circle cx="677.2" cy="433.5" r="2.3" fill="#e57454" stroke="#d0654a" stroke-width="0.7"/>
<circle cx="677.2" cy="448.1" r="0.7" fill="#c39084" stroke="#ba897f" stroke-width="0.7"/>
<circle cx="706.6" cy="418.8" r="2.5" fill="#dbe7e9" stroke="#a9c0c4" stroke-width="0.7"/>
<circle cx="706.6" cy="433.5" r="6.5" fill="#dbe7e9" stroke="#a9c0c4" stroke-width="0.7"/>
<circle cx="706.6" cy="448.1" r="2.5" fill="#dbe7e9" stroke="#a9c0c4" stroke-width="0.7"/>
<circle cx="736.0" cy="418.8" r="0.6" fill="#c1b4ae" stroke="#b6a7a0" stroke-width="0.7"/>
<circle cx="736.0" cy="433.5" r="7.2" fill="#e0c4b2" stroke="#c8a792" stroke-width="0.7"/>
<circle cx="736.0" cy="448.1" r="2.6" fill="#e0c4b2" stroke="#c8a792" stroke-width="0.7"/>
<circle cx="765.4" cy="389.5" r="2.0" fill="#b2b5a0" stroke="#a8ac97" stroke-width="0.7"/>
<circle cx="765.4" cy="404.1" r="2.9" fill="#c0c793" stroke="#aab27f" stroke-width="0.7"/>
<circle cx="765.4" cy="418.8" r="3.7" fill="#c0c793" stroke="#aab27f" stroke-width="0.7"/>
<circle cx="765.4" cy="433.5" r="1.0" fill="#b2b5a0" stroke="#a8ac97" stroke-width="0.7"/>
<circle cx="765.4" cy="448.1" r="6.4" fill="#c0c793" stroke="#aab27f" stroke-width="0.7"/>
<circle cx="383.0" cy="389.5" r="2" fill="#5a5aa6" opacity="0.85"/>
<path d="M280.7 338.4 V456.6 H780.0" fill="none" stroke="#8c8c8c" stroke-width="1.4"/>
<line x1="277.2" x2="280.7" y1="345.5" y2="345.5" stroke="#8c8c8c" stroke-width="0.9"/>
<text x="273.4" y="348.6" font-size="8.8" fill="#222" text-anchor="end" font-weight="normal" font-style="normal" >SEZ</text>
<line x1="277.2" x2="280.7" y1="360.2" y2="360.2" stroke="#8c8c8c" stroke-width="0.9"/>
<text x="273.4" y="363.3" font-size="8.8" fill="#222" text-anchor="end" font-weight="normal" font-style="normal" >GCL</text>
<line x1="277.2" x2="280.7" y1="374.8" y2="374.8" stroke="#8c8c8c" stroke-width="0.9"/>
<text x="273.4" y="377.9" font-size="8.8" fill="#222" text-anchor="end" font-weight="normal" font-style="normal" >IPL</text>
<line x1="277.2" x2="280.7" y1="389.5" y2="389.5" stroke="#8c8c8c" stroke-width="0.9"/>
<text x="273.4" y="392.6" font-size="8.8" fill="#222" text-anchor="end" font-weight="normal" font-style="normal" >ML</text>
<line x1="277.2" x2="280.7" y1="404.1" y2="404.1" stroke="#8c8c8c" stroke-width="0.9"/>
<text x="273.4" y="407.2" font-size="8.8" fill="#222" text-anchor="end" font-weight="normal" font-style="normal" >OPL</text>
<line x1="277.2" x2="280.7" y1="418.8" y2="418.8" stroke="#8c8c8c" stroke-width="0.9"/>
<text x="273.4" y="421.9" font-size="8.8" fill="#222" text-anchor="end" font-weight="normal" font-style="normal" >GL</text>
<line x1="277.2" x2="280.7" y1="433.5" y2="433.5" stroke="#8c8c8c" stroke-width="0.9"/>
<text x="273.4" y="436.6" font-size="8.8" fill="#222" text-anchor="end" font-weight="normal" font-style="normal" >ONL</text>
<line x1="277.2" x2="280.7" y1="448.1" y2="448.1" stroke="#8c8c8c" stroke-width="0.9"/>
<text x="273.4" y="451.2" font-size="8.8" fill="#222" text-anchor="end" font-weight="normal" font-style="normal" >Background</text>
<line x1="294.7" x2="294.7" y1="456.6" y2="460.1" stroke="#8c8c8c" stroke-width="0.9"/>
<text x="294.7" y="468.9" font-size="8.4" fill="#222" text-anchor="middle" font-weight="normal" font-style="normal" >7-4</text>
<line x1="324.1" x2="324.1" y1="456.6" y2="460.1" stroke="#8c8c8c" stroke-width="0.9"/>
<text x="324.1" y="468.9" font-size="8.4" fill="#222" text-anchor="middle" font-weight="normal" font-style="normal" >7-1</text>
<line x1="353.5" x2="353.5" y1="456.6" y2="460.1" stroke="#8c8c8c" stroke-width="0.9"/>
<text x="353.5" y="468.9" font-size="8.4" fill="#222" text-anchor="middle" font-weight="normal" font-style="normal" >7-5</text>
<line x1="383.0" x2="383.0" y1="456.6" y2="460.1" stroke="#8c8c8c" stroke-width="0.9"/>
<text x="383.0" y="468.9" font-size="8.4" fill="#222" text-anchor="middle" font-weight="normal" font-style="normal" >7-0</text>
<line x1="412.4" x2="412.4" y1="456.6" y2="460.1" stroke="#8c8c8c" stroke-width="0.9"/>
<text x="412.4" y="468.9" font-size="8.4" fill="#222" text-anchor="middle" font-weight="normal" font-style="normal" >7-3</text>
<line x1="441.8" x2="441.8" y1="456.6" y2="460.1" stroke="#8c8c8c" stroke-width="0.9"/>
<text x="441.8" y="468.9" font-size="8.4" fill="#222" text-anchor="middle" font-weight="normal" font-style="normal" >7-2</text>
<line x1="471.2" x2="471.2" y1="456.6" y2="460.1" stroke="#8c8c8c" stroke-width="0.9"/>
<text x="471.2" y="468.9" font-size="8.4" fill="#222" text-anchor="middle" font-weight="normal" font-style="normal" >7-6</text>
<line x1="500.6" x2="500.6" y1="456.6" y2="460.1" stroke="#8c8c8c" stroke-width="0.9"/>
<text x="500.6" y="468.9" font-size="8.4" fill="#222" text-anchor="middle" font-weight="normal" font-style="normal" >10-9</text>
<line x1="530.1" x2="530.1" y1="456.6" y2="460.1" stroke="#8c8c8c" stroke-width="0.9"/>
<text x="530.1" y="468.9" font-size="8.4" fill="#222" text-anchor="middle" font-weight="normal" font-style="normal" >10-2</text>
<line x1="559.5" x2="559.5" y1="456.6" y2="460.1" stroke="#8c8c8c" stroke-width="0.9"/>
<text x="559.5" y="468.9" font-size="8.4" fill="#222" text-anchor="middle" font-weight="normal" font-style="normal" >10-0</text>
<line x1="588.9" x2="588.9" y1="456.6" y2="460.1" stroke="#8c8c8c" stroke-width="0.9"/>
<text x="588.9" y="468.9" font-size="8.4" fill="#222" text-anchor="middle" font-weight="normal" font-style="normal" >10-7</text>
<line x1="618.3" x2="618.3" y1="456.6" y2="460.1" stroke="#8c8c8c" stroke-width="0.9"/>
<text x="618.3" y="468.9" font-size="8.4" fill="#222" text-anchor="middle" font-weight="normal" font-style="normal" >10-1</text>
<line x1="647.7" x2="647.7" y1="456.6" y2="460.1" stroke="#8c8c8c" stroke-width="0.9"/>
<text x="647.7" y="468.9" font-size="8.4" fill="#222" text-anchor="middle" font-weight="normal" font-style="normal" >10-5</text>
<line x1="677.2" x2="677.2" y1="456.6" y2="460.1" stroke="#8c8c8c" stroke-width="0.9"/>
<text x="677.2" y="468.9" font-size="8.4" fill="#222" text-anchor="middle" font-weight="normal" font-style="normal" >10-4</text>
<line x1="706.6" x2="706.6" y1="456.6" y2="460.1" stroke="#8c8c8c" stroke-width="0.9"/>
<text x="706.6" y="468.9" font-size="8.4" fill="#222" text-anchor="middle" font-weight="normal" font-style="normal" >10-3</text>
<line x1="736.0" x2="736.0" y1="456.6" y2="460.1" stroke="#8c8c8c" stroke-width="0.9"/>
<text x="736.0" y="468.9" font-size="8.4" fill="#222" text-anchor="middle" font-weight="normal" font-style="normal" >10-6</text>
<line x1="765.4" x2="765.4" y1="456.6" y2="460.1" stroke="#8c8c8c" stroke-width="0.9"/>
<text x="765.4" y="468.9" font-size="8.4" fill="#222" text-anchor="middle" font-weight="normal" font-style="normal" >10-8</text>
<line x1="485.8" x2="485.8" y1="338.4" y2="456.6" stroke="#5f6b75" stroke-width="1.2" stroke-dasharray="2.6 1.6"/>
<path d="M779.5 354.4 H251.3 V382.3 H779.5" fill="none" stroke="#b5343c" stroke-width="1.3"/>
<text x="385.9" y="483.0" font-size="11.4" fill="#111" text-anchor="middle" font-weight="bold" font-style="normal" >STAGATE(n=7)</text>
<text x="634.7" y="483.0" font-size="11.4" fill="#111" text-anchor="middle" font-weight="bold" font-style="normal" >STAGATE(n=10)</text>
<text transform="translate(226.2,394) rotate(-90)" font-size="11.4" font-weight="bold" fill="#111" text-anchor="middle">Pianno</text>
<text x="791.0" y="345.3" font-size="9" fill="#111" text-anchor="start" font-weight="bold" font-style="normal" >Proportion</text>
<circle cx="800.6" cy="356.8" r="3.4" fill="#fff" stroke="#b9b9b9" stroke-width="0.8"/>
<text x="811.5" y="359.8" font-size="8.4" fill="#222" text-anchor="start" font-weight="normal" font-style="normal" >0.2</text>
<circle cx="800.6" cy="368.4" r="4.9" fill="#fff" stroke="#b9b9b9" stroke-width="0.8"/>
<text x="811.5" y="371.4" font-size="8.4" fill="#222" text-anchor="start" font-weight="normal" font-style="normal" >0.4</text>
<circle cx="800.6" cy="382.5" r="6.0" fill="#fff" stroke="#b9b9b9" stroke-width="0.8"/>
<text x="811.5" y="385.5" font-size="8.4" fill="#222" text-anchor="start" font-weight="normal" font-style="normal" >0.6</text>
<circle cx="800.6" cy="398.7" r="6.8" fill="#fff" stroke="#b9b9b9" stroke-width="0.8"/>
<text x="811.5" y="401.7" font-size="8.4" fill="#222" text-anchor="start" font-weight="normal" font-style="normal" >0.8</text>
<circle cx="800.6" cy="416.0" r="7.5" fill="#fff" stroke="#b9b9b9" stroke-width="0.8"/>
<text x="811.5" y="419.0" font-size="8.4" fill="#222" text-anchor="start" font-weight="normal" font-style="normal" >1.0</text>
<text x="7.5" y="339.0" font-size="12" fill="#111" text-anchor="start" font-weight="bold" font-style="normal" >e</text>
<rect x="10.4" y="349.8" width="169" height="125" fill="#f8f8fa"/>
<g clip-path="url(#lhemi)">
<path d="M95.8 355.2 L81.9 353.9C79.5 354.1 72.1 354.0 67.1 355.2C62.2 356.3 57.3 358.2 52.4 360.7C47.4 363.2 42.0 366.9 37.6 370.0C33.1 373.0 29.0 376.1 25.6 379.2C22.1 382.3 18.9 384.9 16.9 388.4C14.9 392.0 14.0 396.3 13.5 400.5C13.1 404.6 13.5 409.1 13.9 413.4C14.4 417.7 14.8 421.7 16.3 426.3C17.8 431.0 20.2 436.6 22.8 441.1C25.4 445.7 28.5 450.9 32.0 453.7C35.6 456.5 41.2 458.5 44.0 458.1C46.9 457.7 47.0 453.5 49.0 451.3C51.1 449.1 53.9 446.3 56.4 444.8C59.0 443.4 62.0 441.5 64.4 442.6C66.8 443.7 67.9 448.6 70.8 451.3C73.8 454.0 80.1 457.4 81.9 458.7L95.8 461.1 Z" fill="#d7cee3"/>
<path d="M95.8 355.2 L81.9 353.9C79.5 354.1 72.1 354.0 67.1 355.2C62.2 356.3 57.3 358.2 52.4 360.7C47.4 363.2 42.0 366.9 37.6 370.0C33.1 373.0 29.0 376.1 25.6 379.2C22.1 382.3 18.9 384.9 16.9 388.4C14.9 392.0 14.0 396.3 13.5 400.5C13.1 404.6 13.5 409.1 13.9 413.4C14.4 417.7 14.8 421.7 16.3 426.3C17.8 431.0 20.2 436.6 22.8 441.1C25.4 445.7 28.5 450.9 32.0 453.7C35.6 456.5 41.2 458.5 44.0 458.1C46.9 457.7 47.0 453.5 49.0 451.3C51.1 449.1 53.9 446.3 56.4 444.8C59.0 443.4 62.0 441.5 64.4 442.6C66.8 443.7 67.9 448.6 70.8 451.3C73.8 454.0 80.1 457.4 81.9 458.7L95.8 461.1 Z" fill="#fff" filter="url(#nissl)" opacity="0.3"/>
<path d="M47.7 394.9C49.9 391.7 53.7 389.8 57.9 388.4C62.1 387.1 68.1 386.4 72.7 386.6C77.3 386.7 81.8 388.0 85.6 389.4C89.5 390.7 94.1 383.8 95.8 394.9C97.5 406.0 97.5 446.0 95.8 455.9C94.1 465.8 89.5 455.3 85.6 454.1C81.8 452.8 76.4 451.3 72.7 448.5C69.0 445.7 66.5 439.9 63.5 437.4C60.4 435.0 56.8 436.2 54.2 433.7C51.6 431.3 49.3 426.9 47.7 422.6C46.2 418.3 45.0 412.5 45.0 407.8C45.0 403.2 45.6 398.1 47.7 394.9Z" fill="#e3ddeb" opacity="0.9"/>
<path d="M47.7 394.9C49.9 391.7 53.7 389.8 57.9 388.4C62.1 387.1 68.1 386.4 72.7 386.6C77.3 386.7 81.8 388.0 85.6 389.4C89.5 390.7 94.1 383.8 95.8 394.9C97.5 406.0 97.5 446.0 95.8 455.9C94.1 465.8 89.5 455.3 85.6 454.1C81.8 452.8 76.4 451.3 72.7 448.5C69.0 445.7 66.5 439.9 63.5 437.4C60.4 435.0 56.8 436.2 54.2 433.7C51.6 431.3 49.3 426.9 47.7 422.6C46.2 418.3 45.0 412.5 45.0 407.8C45.0 403.2 45.6 398.1 47.7 394.9Z" fill="#fff" filter="url(#nissl)" opacity="0.16"/>
<path d="M43.1 400.5C43.4 398.5 43.1 392.1 45.0 388.4C46.8 384.7 50.2 380.9 54.2 378.3C58.2 375.7 64.1 373.3 69.0 372.7C73.9 372.1 79.3 373.0 83.8 374.6C88.3 376.1 93.8 380.7 95.8 382.0" fill="none" stroke="#eeeaf3" stroke-width="3" stroke-linecap="round"/>
<path d="M43.1 400.5C42.8 402.6 41.1 409.1 41.3 413.4C41.4 417.7 42.5 422.3 44.0 426.3C45.6 430.3 48.4 434.5 50.5 437.4C52.6 440.3 55.4 442.8 56.4 443.9" fill="none" stroke="#eeeaf3" stroke-width="2.2" stroke-linecap="round"/>
<path d="M47.6 392.1C48.0 390.9 48.4 386.9 50.1 384.7C51.9 382.6 54.5 380.7 57.9 379.2C61.4 377.7 66.4 375.8 70.8 375.7C75.3 375.6 81.3 376.8 84.7 378.6C88.2 380.5 90.2 384.1 91.5 386.6C92.9 389.1 92.8 392.3 93.0 393.4" fill="none" stroke="#4f3f96" stroke-width="1.5" stroke-linecap="round"/>
<path d="M62.0 386.8C63.1 386.4 66.6 384.8 69.0 384.6C71.4 384.3 74.1 384.6 76.4 385.3C78.7 386.0 81.8 388.4 82.9 389.0" fill="none" stroke="#5d4ea4" stroke-width="1.2" stroke-linecap="round"/>
<path d="M63.5 388.6C64.5 388.4 67.7 387.2 69.9 387.1C72.1 387.1 75.6 388.1 76.8 388.3" fill="none" stroke="#7c6eb8" stroke-width="0.9" stroke-linecap="round"/>
<path d="M41.3 399.5C41.8 398.8 42.8 399.4 43.5 401.4C44.2 403.4 44.9 408.0 45.3 411.5C45.8 415.1 46.3 420.6 46.1 422.6C45.9 424.6 44.9 424.8 44.2 423.6C43.6 422.3 42.6 418.2 42.0 415.2C41.4 412.3 40.7 408.6 40.5 406.0C40.4 403.4 40.8 400.3 41.3 399.5Z" fill="#7f6eb6" opacity="0.85"/>
<path d="M87.5 392.1C88.3 390.7 92.6 389.7 94.0 390.3C95.3 390.9 95.6 394.1 95.8 395.8C96.0 397.5 96.0 399.9 94.9 400.5C93.8 401.0 90.6 400.4 89.3 399.0C88.1 397.6 86.7 393.6 87.5 392.1Z" fill="#c9bee0" opacity="0.8"/>
</g>
<g clip-path="url(#rbrain)">
<rect x="95.4" y="350" width="85" height="125" fill="#46b39e"/>
<path d="M95.5 350.5C102.3 348.5 127.0 349.3 136.2 350.5C145.5 351.8 149.5 355.5 151.0 357.9C152.5 360.4 148.8 364.9 145.5 365.3C142.1 365.8 136.2 361.6 130.7 360.7C125.1 359.8 118.0 359.5 112.2 359.8C106.3 360.1 98.3 364.1 95.5 362.6C92.8 361.0 88.8 352.5 95.5 350.5Z" fill="#4fbaa3" />
<path d="M151.0 357.9C155.0 358.9 163.3 365.9 167.6 370.9C171.9 375.8 174.7 381.7 176.9 387.5C179.0 393.4 180.3 399.8 180.6 406.0C180.9 412.2 180.3 421.1 178.7 424.5C177.2 427.9 173.2 429.4 171.3 426.3C169.5 423.3 169.2 412.2 167.6 406.0C166.1 399.8 164.6 394.6 162.1 389.4C159.6 384.1 155.9 378.6 152.8 374.6C149.8 370.6 143.9 368.1 143.6 365.3C143.3 362.6 147.0 357.0 151.0 357.9Z" fill="#3c9f92" />
<path d="M143.6 365.3C147.3 367.6 149.8 370.6 152.8 374.6C155.9 378.6 159.6 384.1 162.1 389.4C164.6 394.6 166.4 400.1 167.6 406.0C168.9 411.9 170.3 421.1 169.5 424.5C168.7 427.9 164.4 429.1 163.0 426.3C161.6 423.6 162.4 413.5 161.2 407.8C159.9 402.1 158.2 397.1 155.6 392.1C153.0 387.2 149.0 381.8 145.5 378.3C141.9 374.7 139.9 372.7 134.4 370.9C128.8 369.0 118.7 367.5 112.2 367.2C105.7 366.9 98.3 369.8 95.5 369.0C92.8 368.3 92.8 364.1 95.5 362.6C98.3 361.0 106.3 360.1 112.2 359.8C118.0 359.5 125.4 359.8 130.7 360.7C135.9 361.6 139.9 363.0 143.6 365.3Z" fill="#5cc3aa" />
<path d="M160.2 424.5C161.8 423.4 169.5 425.1 172.3 426.3C175.0 427.6 177.0 430.0 176.9 431.9C176.7 433.7 173.6 437.3 171.3 437.4C169.0 437.6 164.9 435.0 163.0 432.8C161.2 430.6 158.7 425.6 160.2 424.5Z" fill="#62d478" />
<path d="M141.8 438.3C144.3 434.8 149.1 431.0 152.8 429.1C156.5 427.3 160.4 426.6 163.9 427.3C167.5 427.9 172.9 430.2 174.1 432.8C175.3 435.4 173.0 439.4 171.3 443.0C169.6 446.5 166.7 450.5 163.9 454.1C161.2 457.6 158.4 460.8 154.7 464.2C151.0 467.6 145.0 474.2 141.8 474.4C138.5 474.5 136.0 469.2 135.3 465.1C134.6 461.1 136.6 454.8 137.7 450.4C138.8 445.9 139.2 441.9 141.8 438.3Z" fill="#8ce5ae" />
<path d="M135.3 457.8C136.8 455.3 142.7 452.2 145.5 453.1C148.2 454.1 152.4 459.8 151.9 463.3C151.5 466.8 145.3 473.6 142.7 474.4C140.1 475.2 137.4 470.7 136.2 467.9C135.0 465.1 133.7 460.2 135.3 457.8Z" fill="#68d4bc" />
<path d="M95.5 373.1C98.3 369.7 106.5 370.9 112.2 371.1C117.9 371.2 124.5 372.0 129.7 373.8C135.0 375.7 139.7 378.3 143.6 382.0C147.5 385.6 150.9 390.9 153.2 395.8C155.5 400.8 156.7 406.5 157.3 411.5C157.9 416.6 157.8 423.0 156.9 426.3C156.1 429.7 154.6 430.3 152.1 431.5C149.6 432.7 144.4 434.6 141.8 433.7C139.1 432.9 136.6 431.0 136.2 426.3C135.8 421.7 139.5 411.5 139.5 406.0C139.5 400.5 138.9 396.5 136.2 393.4C133.5 390.3 127.9 388.3 123.3 387.5C118.7 386.7 113.1 387.8 108.5 388.4C103.9 389.1 97.7 393.8 95.5 391.2C93.4 388.7 92.8 376.5 95.5 373.1Z" fill="#cdd6d6" />
<path d="M139.5 397.7C141.8 394.0 148.4 397.5 151.0 400.5C153.6 403.4 154.9 410.9 155.1 415.2C155.2 419.6 154.0 423.8 151.9 426.3C149.9 428.9 145.1 431.0 142.7 430.4C140.3 429.8 138.2 428.1 137.7 422.6C137.2 417.2 137.3 401.4 139.5 397.7Z" fill="#c6ccd6" />
<path d="M126.0 442.0C127.5 438.8 133.9 434.5 138.1 431.9C142.2 429.3 148.2 426.3 151.0 426.3C153.8 426.3 155.8 429.4 155.1 431.9C154.3 434.3 149.5 438.3 146.4 441.1C143.3 444.0 139.4 447.2 136.6 448.9C133.7 450.6 130.9 452.4 129.2 451.3C127.4 450.1 124.6 445.3 126.0 442.0Z" fill="#a9cfe9" />
<path d="M121.8 444.8C122.6 442.4 124.6 440.0 127.0 438.3C129.4 436.7 134.1 433.0 136.2 434.6C138.3 436.3 139.5 443.3 139.5 448.5C139.5 453.7 137.7 464.5 136.2 466.1C134.7 467.6 132.5 460.1 130.7 457.8C128.9 455.4 126.9 453.0 125.5 452.2C124.1 451.4 123.0 454.4 122.3 453.1C121.7 451.9 121.0 447.3 121.8 444.8Z" fill="#a4cbe6" />
<path d="M96.5 382.9C98.5 380.2 104.0 377.4 108.5 376.1C113.0 374.7 119.0 374.0 123.3 374.6C127.6 375.2 131.2 377.3 134.4 379.8C137.5 382.2 141.0 386.6 142.1 389.4C143.3 392.1 142.7 395.7 141.4 396.4C140.1 397.1 137.4 394.7 134.4 393.4C131.3 392.2 127.6 389.6 123.3 389.0C119.0 388.4 113.0 389.2 108.5 389.7C104.0 390.3 98.5 393.3 96.5 392.1C94.5 391.0 94.5 385.6 96.5 382.9Z" fill="#93e38c" />
<path d="M101.1 382.0C101.4 381.1 106.6 377.9 110.3 376.8C114.0 375.7 119.6 374.9 123.3 375.5C127.0 376.1 131.9 379.2 132.5 380.1C133.1 381.1 129.4 381.3 127.0 381.2C124.5 381.2 120.8 379.6 117.7 379.8C114.6 379.9 111.3 381.6 108.5 382.0C105.7 382.3 100.8 382.8 101.1 382.0Z" fill="#7fdc7a" opacity="0.7"/>
<path d="M93.7 395.3C96.2 389.4 103.6 392.4 108.5 391.6C113.4 390.8 118.7 390.0 123.3 390.7C127.9 391.3 133.4 392.7 136.2 395.3C139.0 397.8 139.8 402.1 140.3 406.0C140.8 409.9 140.2 415.5 139.2 418.9C138.2 422.4 137.6 425.1 134.4 426.7C131.1 428.3 123.9 428.5 119.6 428.5C115.3 428.5 112.8 427.0 108.5 426.7C104.2 426.4 96.2 431.9 93.7 426.7C91.2 421.5 91.2 401.1 93.7 395.3Z" fill="#f09aa6" />
<path d="M127.0 400.5C127.9 398.8 131.9 398.3 133.4 399.5C135.0 400.8 136.4 405.2 136.2 407.8C136.1 410.5 133.9 414.9 132.5 415.2C131.1 415.5 128.8 412.2 127.9 409.7C127.0 407.2 126.0 402.1 127.0 400.5Z" fill="#f5b5bc" opacity="0.8"/>
<path d="M93.7 426.3C96.2 420.0 104.2 425.8 108.5 426.3C112.8 426.8 115.2 429.1 119.6 429.3C123.9 429.5 132.5 426.6 134.7 427.4C137.0 428.2 134.7 431.8 132.9 434.1C131.0 436.4 125.8 438.7 123.6 441.5C121.5 444.3 120.7 447.6 119.9 450.7C119.1 453.9 120.7 458.3 118.8 460.5C116.9 462.8 112.7 463.6 108.5 464.2C104.3 464.8 96.2 470.5 93.7 464.2C91.2 457.9 91.2 432.6 93.7 426.3Z" fill="#e8665f" />
<path d="M93.7 431.9C95.9 429.9 102.6 433.7 106.6 433.7C110.6 433.7 115.6 431.3 117.7 431.9C119.9 432.5 120.5 435.3 119.6 437.4C118.7 439.6 115.3 443.3 112.2 444.8C109.1 446.4 104.2 446.5 101.1 446.7C98.0 446.8 94.9 448.2 93.7 445.7C92.5 443.3 91.5 433.9 93.7 431.9Z" fill="#ee7a70" opacity="0.7"/>
<path d="M101.1 426.3C102.9 425.9 108.5 423.9 112.2 423.6C115.9 423.2 119.7 423.5 123.3 424.1C126.8 424.7 131.7 426.7 133.4 427.3" fill="none" stroke="#f7c8c4" stroke-width="0.8" opacity="0.8"/>
<path d="M107.6 389.9C108.6 389.6 111.9 388.5 114.0 387.9C116.2 387.2 118.7 386.2 120.5 386.0C122.3 385.9 124.3 387.0 125.1 387.1" fill="none" stroke="#e0503a" stroke-width="1.1" stroke-linecap="round"/>
<path d="M110.3 388.6C111.6 388.2 115.4 386.3 117.7 386.0C120.0 385.7 122.3 386.1 124.2 386.8C126.0 387.5 127.3 389.4 128.8 390.3C130.4 391.2 132.7 391.8 133.4 392.1" fill="none" stroke="#f0a030" stroke-width="0.8" stroke-linecap="round"/>
<path d="M100.2 383.4C101.6 382.7 106.0 380.7 108.5 379.2C110.9 377.7 112.5 375.3 115.0 374.6C117.4 373.9 120.2 374.1 123.3 374.9C126.4 375.8 130.6 377.7 133.4 379.8C136.3 381.8 139.0 385.0 140.3 387.5C141.5 390.0 140.9 393.4 141.0 394.5" fill="none" stroke="#3c8c4a" stroke-width="0.7"/>
</g>
<path d="M98.3 464.8C99.2 463.6 105.2 463.5 108.5 463.3C111.7 463.1 115.7 462.1 117.7 463.3C119.8 464.5 121.5 469.1 120.7 470.7C119.8 472.3 115.4 473.0 112.6 472.9C109.7 472.8 105.7 471.7 103.3 470.3C100.9 469.0 97.5 465.9 98.3 464.8Z" fill="#5f47a8"/>
<path d="M102.9 466.1C104.0 465.6 109.5 466.3 112.2 467.0C114.9 467.6 119.1 469.1 119.2 470.0C119.3 470.8 114.8 472.2 112.6 472.2C110.3 472.2 107.3 471.0 105.7 470.0C104.1 468.9 101.9 466.6 102.9 466.1Z" fill="#432d90"/>
<text x="98.3" y="365.7" font-size="8.6" fill="#222" text-anchor="start" font-weight="normal" font-style="normal" >CA1</text>
<text x="150.1" y="374.6" font-size="8.6" fill="#222" text-anchor="start" font-weight="normal" font-style="normal" >CA2</text>
<text x="102.6" y="409.7" font-size="8.6" fill="#222" text-anchor="start" font-weight="normal" font-style="normal" >DG</text>
<text x="141.4" y="414.9" font-size="8.6" fill="#222" text-anchor="start" font-weight="normal" font-style="normal" >CA3</text>
<line x1="108.5" y1="366.8" x2="115.0" y2="374.6" stroke="#222" stroke-width="0.7"/>
<line x1="153.8" y1="375.5" x2="139.9" y2="385.7" stroke="#222" stroke-width="0.7"/>
<line x1="111.3" y1="401.4" x2="115.0" y2="391.2" stroke="#222" stroke-width="0.7"/>
<line x1="150.1" y1="404.1" x2="140.8" y2="394.9" stroke="#222" stroke-width="0.7"/>
<text x="8.3" y="538.5" font-size="12" fill="#111" text-anchor="start" font-weight="bold" font-style="normal" >f</text>
<circle cx="69.6" cy="623.0" r="60.6" fill="#050505" filter="url(#edge)"/>
<circle cx="69.6" cy="623.0" r="59.6" fill="#fff" filter="url(#dots)" opacity="0.16"/>
<path d="M32.4 642.0C33.4 641.0 36.4 638.1 38.5 636.0C40.6 633.9 43.1 632.0 45.1 629.3C47.1 626.6 48.6 623.0 50.5 620.0C52.4 617.0 54.1 613.4 56.4 611.0C58.6 608.6 61.2 606.9 64.0 605.5C66.8 604.1 70.1 603.4 73.3 602.5C76.5 601.6 79.7 600.6 83.0 600.0C86.3 599.4 90.0 599.1 93.0 598.8C96.0 598.5 98.4 598.3 101.0 598.3C103.6 598.3 107.2 598.7 108.5 598.8" fill="none" stroke="#2a7dbd" stroke-width="4.10" stroke-linecap="round" stroke-linejoin="round" filter="url(#edge)"/>
<path d="M108.5 598.8C109.8 598.9 113.5 599.2 116.0 599.6C118.5 600.0 122.2 600.8 123.5 601.0" fill="none" stroke="#ff8c1a" stroke-width="5.60" stroke-linecap="round" stroke-linejoin="round" filter="url(#edge)"/>
<path d="M124.0 602.5C124.7 603.2 127.3 605.4 128.0 607.0C128.7 608.6 128.8 610.6 128.2 612.3C127.6 614.0 126.2 615.6 124.5 617.0C122.8 618.4 121.4 619.5 118.3 620.8C115.2 622.0 110.2 623.5 106.0 624.5C101.8 625.5 95.2 626.6 93.0 627.0" fill="none" stroke="#35a83a" stroke-width="4.10" stroke-linecap="round" stroke-linejoin="round" filter="url(#edge)"/>
<path d="M53.5 647.6C54.8 646.3 58.2 642.4 61.0 640.0C63.8 637.6 66.7 635.7 70.4 633.5C74.1 631.3 78.8 628.9 83.0 627.0C87.2 625.1 93.7 623.0 95.8 622.2" fill="none" stroke="#d63a3a" stroke-width="4.20" stroke-linecap="round" stroke-linejoin="round" filter="url(#edge)"/>
<path d="M54.5 649.0C56.1 648.2 60.9 645.9 64.0 644.5C67.1 643.1 70.5 641.8 73.3 640.5C76.1 639.2 78.7 638.2 81.0 637.0C83.3 635.8 86.2 634.1 87.3 633.5" fill="none" stroke="#d63a3a" stroke-width="3.60" stroke-linecap="round" stroke-linejoin="round" filter="url(#edge)"/>
<path d="M59.0 655.5C59.5 655.2 61.0 654.1 62.0 653.5C63.0 652.9 64.1 652.6 65.0 652.0C65.9 651.4 67.1 650.3 67.5 650.0" fill="none" stroke="#f4f4f4" stroke-width="1.50" stroke-linecap="round" stroke-linejoin="round" />
<circle cx="19" cy="651.5" r="2.2" fill="#c9a46a"/><circle cx="30.5" cy="645" r="1.8" fill="#d9a050"/>
<circle cx="60.0" cy="608.5" r="0.9" fill="#d9a050"/>
<circle cx="68.5" cy="603.5" r="0.9" fill="#d9a050"/>
<circle cx="88.0" cy="599.3" r="0.9" fill="#d9a050"/>
<circle cx="98.0" cy="598.0" r="0.9" fill="#d9a050"/>
<circle cx="19.3" cy="660.6" r="0.93" fill="#ddd"/>
<circle cx="21.1" cy="664.2" r="0.85" fill="#ddd"/>
<circle cx="17.5" cy="666.6" r="0.77" fill="#ddd"/>
<circle cx="12.0" cy="674.5" r="0.77" fill="#ddd"/>
<circle cx="22.3" cy="659.4" r="0.70" fill="#ddd"/>
<circle cx="7.2" cy="650.3" r="0.77" fill="#ddd"/>
<circle cx="126.0" cy="570.9" r="0.70" fill="#ddd"/>
<circle cx="9.6" cy="679.4" r="0.70" fill="#ddd"/>
<path d="M18.7 661.2 l2.4 3.0 l-3.0 3.6" stroke="#555" stroke-width="0.6" fill="none"/>
<text x="70.8" y="551.8" font-size="11.2" fill="#222" text-anchor="middle" font-weight="normal" font-style="normal" >Pianno</text>
<path d="M140.3 572.3 L123.8 590.8" stroke="#b8414a" stroke-width="1.5" fill="none"/><path d="M129.6 590 L122.4 592.3 L123.6 584.8" stroke="#b8414a" stroke-width="1.5" fill="none"/>
<circle cx="148.8" cy="594.3" r="2" fill="#1f77b4"/>
<text x="158.6" y="597.6" font-size="9.2" fill="#222" text-anchor="start" font-weight="normal" font-style="normal" >CA1</text>
<circle cx="148.8" cy="608.3" r="2" fill="#ff7f0e"/>
<text x="158.6" y="611.6" font-size="9.2" fill="#222" text-anchor="start" font-weight="normal" font-style="normal" >CA2</text>
<circle cx="148.8" cy="622.4" r="2" fill="#2ca02c"/>
<text x="158.6" y="625.7" font-size="9.2" fill="#222" text-anchor="start" font-weight="normal" font-style="normal" >CA3</text>
<circle cx="148.8" cy="636.4" r="2" fill="#d62728"/>
<text x="158.6" y="639.7" font-size="9.2" fill="#222" text-anchor="start" font-weight="normal" font-style="normal" >DG</text>
<circle cx="148.8" cy="650.5" r="2" fill="#000"/>
<text x="158.6" y="653.8" font-size="9.2" fill="#222" text-anchor="start" font-weight="normal" font-style="normal" >Background</text>
<g clip-path="url(#fsc)" filter="url(#edge)">
<circle cx="277.5" cy="623.0" r="62.5" fill="#1f77b4"/>
<path d="M213.7 560.5C226.0 553.5 275.6 557.8 287.6 558.7C299.6 559.6 288.6 563.9 285.7 566.1C282.8 568.2 276.3 569.2 270.0 571.6C263.7 574.1 254.0 577.7 247.9 580.9C241.7 584.0 237.5 587.1 233.1 590.5C228.6 593.8 224.3 599.4 221.1 601.2C217.8 603.0 214.9 607.9 213.7 601.2C212.5 594.4 201.4 567.6 213.7 560.5Z" fill="#ff9896"/>
<path d="M233.1 589.2C234.8 587.7 241.7 582.9 247.9 579.7C254.0 576.6 263.9 573.0 270.0 570.5C276.2 568.1 279.4 565.8 284.8 565.0C290.2 564.2 297.1 564.3 302.3 565.7C307.6 567.1 315.6 571.8 316.2 573.5C316.8 575.1 309.6 575.6 306.0 575.7C302.5 575.8 299.3 574.1 294.9 574.2C290.6 574.3 285.1 575.1 280.2 576.1C275.3 577.0 270.9 578.1 265.4 579.7C259.9 581.4 251.6 584.5 246.9 586.0C242.3 587.5 240.0 588.1 237.7 588.6C235.4 589.1 231.4 590.6 233.1 589.2Z" fill="#8c564b"/>
<path d="M237.7 584.5C239.7 583.6 246.0 582.0 250.6 580.5C255.2 578.9 261.4 576.6 265.4 575.3C269.4 574.0 273.0 572.9 274.6 572.7C276.2 572.6 276.5 573.8 275.0 574.6C273.5 575.4 269.5 576.2 265.4 577.5C261.3 578.9 255.1 581.2 250.6 582.7C246.2 584.2 240.8 586.1 238.6 586.4C236.5 586.7 235.7 585.5 237.7 584.5Z" fill="#1f77b4"/>
<path d="M213.7 591.9C215.8 587.2 222.6 591.1 226.6 590.1C230.6 589.0 231.2 587.5 237.7 585.7C244.2 583.8 255.9 581.0 265.4 579.0C274.9 577.0 287.3 574.1 294.9 573.5C302.6 572.8 310.9 573.7 311.2 574.9C311.5 576.2 303.5 579.4 296.8 581.2C290.1 583.0 279.3 584.3 270.9 585.8C262.6 587.4 252.4 588.5 246.9 590.5C241.5 592.5 239.9 594.5 238.1 597.8C236.3 601.2 236.8 606.1 236.2 610.4C235.6 614.7 235.9 620.9 234.4 623.7C232.8 626.5 229.4 628.2 227.0 627.4C224.6 626.6 222.4 620.2 220.2 618.7C217.9 617.3 214.8 623.2 213.7 618.7C212.6 614.2 211.5 596.7 213.7 591.9Z" fill="#d62728"/>
<path d="M237.7 598.8C239.3 595.8 241.4 593.1 246.9 591.0C252.5 588.9 262.6 587.7 270.9 586.0C279.3 584.4 289.7 582.9 296.8 581.2C303.9 579.5 308.9 575.3 313.8 575.9C318.6 576.4 324.7 582.4 326.0 584.5C327.2 586.7 325.1 588.1 321.2 588.6C317.2 589.1 308.6 587.0 302.3 587.7C296.1 588.3 290.0 590.8 283.9 592.5C277.7 594.2 270.9 595.7 265.4 597.8C259.9 600.0 255.0 603.0 251.0 605.2C247.0 607.4 243.7 610.3 241.4 611.0C239.1 611.6 237.9 611.0 237.3 608.9C236.7 606.9 236.1 601.8 237.7 598.8Z" fill="#aa40fc"/>
<path d="M213.7 629.8C214.9 628.6 217.7 629.6 221.1 628.9C224.5 628.1 230.6 627.9 234.0 625.2C237.4 622.4 238.3 615.6 241.4 612.2C244.5 608.9 248.2 607.6 252.5 605.2C256.8 602.8 262.0 599.9 267.2 597.8C272.5 595.8 278.0 594.5 283.9 592.9C289.7 591.2 296.2 588.6 302.3 587.9C308.5 587.2 316.2 587.9 320.8 588.6C325.4 589.3 329.7 591.4 329.7 592.3C329.7 593.2 325.4 593.7 320.8 594.2C316.2 594.6 308.5 594.0 302.3 594.9C296.2 595.8 289.4 598.0 283.9 599.7C278.3 601.4 273.7 603.2 269.1 605.2C264.5 607.2 259.8 609.2 256.2 611.7C252.5 614.2 249.7 617.1 247.3 620.0C244.9 622.9 243.6 626.5 241.8 629.2C239.9 632.0 239.1 635.1 236.2 636.6C233.4 638.2 228.5 638.5 224.8 638.5C221.0 638.4 215.5 637.7 213.7 636.3C211.8 634.8 212.5 631.0 213.7 629.8Z" fill="#279e68"/>
<path d="M242.3 631.1C242.8 628.1 245.4 623.7 247.9 620.6C250.3 617.4 253.4 614.8 257.1 612.2C260.8 609.7 265.4 607.3 270.0 605.2C274.6 603.2 279.3 601.5 284.8 599.9C290.3 598.2 297.3 596.2 303.3 595.3C309.3 594.3 316.5 593.7 320.8 594.2C325.1 594.6 329.3 596.8 329.3 597.8C329.3 598.9 325.3 599.7 320.8 600.4C316.3 601.2 307.9 601.3 302.3 602.3C296.8 603.2 292.5 604.6 287.6 606.2C282.6 607.7 277.1 609.7 272.8 611.7C268.5 613.7 264.9 615.7 261.7 618.2C258.5 620.6 255.6 623.7 253.4 626.5C251.2 629.2 250.2 632.8 248.8 634.8C247.3 636.8 245.8 639.1 244.7 638.5C243.6 637.9 241.8 634.1 242.3 631.1Z" fill="#17becf"/>
<path d="M257.6 649.6C258.6 647.6 262.0 644.6 265.4 641.8C268.8 639.0 273.7 635.2 278.3 632.6C282.9 629.9 288.4 628.0 293.1 626.1C297.8 624.2 303.8 621.5 306.4 621.1C309.0 620.8 310.2 622.7 308.6 624.1C307.0 625.4 300.9 627.3 296.8 629.2C292.7 631.2 287.9 633.2 283.9 635.7C279.9 638.2 275.9 641.4 272.8 644.0C269.7 646.6 267.6 649.8 265.4 651.4C263.2 653.0 261.2 653.9 259.9 653.6C258.6 653.3 256.7 651.5 257.6 649.6Z" fill="#b5bd61"/>
<path d="M275.0 636.6C276.2 635.3 283.0 632.6 287.6 630.7C292.1 628.8 297.4 627.2 302.3 625.2C307.3 623.2 312.8 620.6 317.1 618.7C321.4 616.8 325.2 613.9 328.2 613.7C331.1 613.5 336.1 615.6 334.8 617.4C333.6 619.2 325.6 622.7 320.8 624.6C316.0 626.6 311.0 627.7 306.0 629.2C301.1 630.8 295.6 632.3 291.3 633.9C286.9 635.4 282.9 638.0 280.2 638.5C277.5 638.9 273.8 637.9 275.0 636.6Z" fill="#e377c2"/>
<path d="M320.4 596.7C321.7 596.4 327.5 597.4 330.0 599.3C332.6 601.3 334.4 605.3 335.9 608.6C337.5 611.8 340.2 617.7 339.3 618.7C338.3 619.7 332.3 616.8 330.4 614.5C328.6 612.2 329.5 607.1 328.2 604.9C326.9 602.6 323.9 602.5 322.7 601.2C321.4 599.8 319.2 597.0 320.4 596.7Z" fill="#e377c2"/>
<path d="M270.0 659.3C271.7 654.7 279.1 649.3 283.9 645.5C288.6 641.6 293.7 638.7 298.6 636.3C303.6 633.8 308.5 632.6 313.4 630.7C318.3 628.9 323.3 626.7 328.2 625.2C333.1 623.6 340.5 611.0 343.0 621.5C345.4 631.9 355.0 676.9 343.0 688.0C331.0 699.0 282.5 690.4 270.9 688.0C259.4 685.5 273.9 678.0 273.7 673.2C273.6 668.4 268.3 664.0 270.0 659.3Z" fill="#ff7f0e"/>
<path d="M251.7 657.7C254.0 655.5 261.7 656.4 265.4 657.7C269.1 659.0 272.5 662.2 273.7 665.4C274.9 668.6 275.0 674.2 272.4 676.9C269.9 679.5 261.8 682.4 258.4 681.3C255.0 680.3 253.2 674.5 252.1 670.6C251.0 666.7 249.5 659.8 251.7 657.7Z" fill="#ffbb78"/>
<path d="M224.8 643.6C225.7 640.6 233.5 641.5 237.7 642.9C241.9 644.3 246.9 648.1 249.7 652.0C252.5 655.8 253.7 661.5 254.3 665.8C255.0 670.1 255.4 676.6 253.6 677.8C251.7 679.0 246.8 676.0 243.2 673.2C239.7 670.4 235.2 666.1 232.2 661.2C229.1 656.3 223.9 646.7 224.8 643.6Z" fill="#c49c94"/>
<path d="M237.7 655.6C239.1 654.3 244.3 654.0 246.9 655.6C249.6 657.3 252.6 662.4 253.6 665.8C254.6 669.2 254.6 675.2 252.8 676.0C251.1 676.7 245.6 672.4 243.2 670.4C240.9 668.4 239.5 666.4 238.6 664.0C237.7 661.5 236.3 657.0 237.7 655.6Z" fill="#c5b0d5"/>
<path d="M226.6 641.4C227.2 640.7 231.2 640.6 234.0 641.8C236.8 643.0 243.0 647.9 243.6 648.8C244.2 649.7 239.9 647.8 237.7 647.3C235.5 646.8 232.2 646.8 230.3 645.9C228.5 644.9 226.0 642.1 226.6 641.4Z" fill="#dbdb8d"/>
<path d="M255.8 679.1C257.3 678.1 266.4 677.0 269.1 677.6C271.7 678.2 273.2 681.7 271.7 682.8C270.1 683.8 262.5 684.5 259.9 683.9C257.2 683.3 254.3 680.1 255.8 679.1Z" fill="#279e68"/>
<path d="M243.2 647.7C245.4 648.9 251.8 652.9 256.2 654.7C260.5 656.5 267.2 657.8 269.5 658.4" fill="none" stroke="#f4f4f4" stroke-width="1"/>
</g>
<g clip-path="url(#fsc)"><path d="M270.9 659.3C272.8 653.2 280.2 648.7 283.9 647.3C287.6 646.0 291.9 648.0 293.1 651.0C294.3 654.1 292.2 660.3 291.3 665.8C290.3 671.3 290.6 681.2 287.6 684.3C284.5 687.3 275.6 688.4 272.8 684.3C270.0 680.1 269.1 665.5 270.9 659.3Z" fill="#c9a9a0" filter="url(#dots)" opacity="0.9"/></g>
<circle cx="277.5" cy="623.0" r="59.5" fill="#fff" filter="url(#dots2)" opacity="0.28"/>
<g clip-path="url(#fsc)"><path d="M213.7 638.5 L242.3 631.1 L247.9 620.6 L257.1 612.2 L270.0 605.2 L284.8 599.9 L303.3 595.3 L320.8 594.2 L343.0 599.3 L343.0 688.0 L213.7 688.0Z" fill="#fff" filter="url(#dots2)" opacity="0.5"/></g>
<circle cx="227.3" cy="660.5" r="0.93" fill="#ccc"/>
<circle cx="229.1" cy="664.1" r="0.85" fill="#ccc"/>
<circle cx="225.5" cy="666.6" r="0.77" fill="#ccc"/>
<circle cx="220.0" cy="674.4" r="0.77" fill="#ccc"/>
<circle cx="230.3" cy="659.3" r="0.70" fill="#ccc"/>
<circle cx="215.2" cy="650.2" r="0.77" fill="#ccc"/>
<circle cx="333.8" cy="571.0" r="0.70" fill="#ccc"/>
<circle cx="217.6" cy="679.3" r="0.70" fill="#ccc"/>
<path d="M226.7 661.1 l2.4 3.0 l-3.0 3.6" stroke="#555" stroke-width="0.6" fill="none"/>
<text x="279.9" y="551.8" font-size="11.2" fill="#222" text-anchor="middle" font-weight="normal" font-style="normal" >STAGATE</text>
<path d="M344.5 572.3 L328.2 590.8" stroke="#b8414a" stroke-width="1.5" fill="none"/><path d="M334 590 L326.8 592.3 L328 584.8" stroke="#b8414a" stroke-width="1.5" fill="none"/>
<circle cx="357.0" cy="566.1" r="2" fill="#1f77b4"/>
<text x="366.2" y="569.4" font-size="9.2" fill="#222" text-anchor="start" font-weight="normal" font-style="normal" >0</text>
<circle cx="357.0" cy="580.2" r="2" fill="#ff7f0e"/>
<text x="366.2" y="583.5" font-size="9.2" fill="#222" text-anchor="start" font-weight="normal" font-style="normal" >1</text>
<circle cx="357.0" cy="594.3" r="2" fill="#279e68"/>
<text x="366.2" y="597.6" font-size="9.2" fill="#222" text-anchor="start" font-weight="normal" font-style="normal" >2</text>
<circle cx="357.0" cy="608.3" r="2" fill="#d62728"/>
<text x="366.2" y="611.6" font-size="9.2" fill="#222" text-anchor="start" font-weight="normal" font-style="normal" >3</text>
<circle cx="357.0" cy="622.4" r="2" fill="#aa40fc"/>
<text x="366.2" y="625.7" font-size="9.2" fill="#222" text-anchor="start" font-weight="normal" font-style="normal" >4</text>
<circle cx="357.0" cy="636.5" r="2" fill="#8c564b"/>
<text x="366.2" y="639.8" font-size="9.2" fill="#222" text-anchor="start" font-weight="normal" font-style="normal" >5</text>
<circle cx="357.0" cy="650.6" r="2" fill="#e377c2"/>
<text x="366.2" y="653.9" font-size="9.2" fill="#222" text-anchor="start" font-weight="normal" font-style="normal" >6</text>
<circle cx="357.0" cy="664.7" r="2" fill="#b5bd61"/>
<text x="366.2" y="668.0" font-size="9.2" fill="#222" text-anchor="start" font-weight="normal" font-style="normal" >7</text>
<circle cx="357.0" cy="678.7" r="2" fill="#17becf"/>
<text x="366.2" y="682.0" font-size="9.2" fill="#222" text-anchor="start" font-weight="normal" font-style="normal" >8</text>
<circle cx="391.5" cy="566.1" r="2" fill="#aec7e8"/>
<text x="400.7" y="569.4" font-size="9.2" fill="#222" text-anchor="start" font-weight="normal" font-style="normal" >9</text>
<circle cx="391.5" cy="580.2" r="2" fill="#ffbb78"/>
<text x="400.7" y="583.5" font-size="9.2" fill="#222" text-anchor="start" font-weight="normal" font-style="normal" >10</text>
<circle cx="391.5" cy="594.3" r="2" fill="#98df8a"/>
<text x="400.7" y="597.6" font-size="9.2" fill="#222" text-anchor="start" font-weight="normal" font-style="normal" >11</text>
<circle cx="391.5" cy="608.3" r="2" fill="#ff9896"/>
<text x="400.7" y="611.6" font-size="9.2" fill="#222" text-anchor="start" font-weight="normal" font-style="normal" >12</text>
<circle cx="391.5" cy="622.4" r="2" fill="#c5b0d5"/>
<text x="400.7" y="625.7" font-size="9.2" fill="#222" text-anchor="start" font-weight="normal" font-style="normal" >13</text>
<circle cx="391.5" cy="636.5" r="2" fill="#c49c94"/>
<text x="400.7" y="639.8" font-size="9.2" fill="#222" text-anchor="start" font-weight="normal" font-style="normal" >14</text>
<circle cx="391.5" cy="650.6" r="2" fill="#f7b6d2"/>
<text x="400.7" y="653.9" font-size="9.2" fill="#222" text-anchor="start" font-weight="normal" font-style="normal" >15</text>
<circle cx="391.5" cy="664.7" r="2" fill="#dbdb8d"/>
<text x="400.7" y="668.0" font-size="9.2" fill="#222" text-anchor="start" font-weight="normal" font-style="normal" >16</text>
<circle cx="391.5" cy="678.7" r="2" fill="#9edae5"/>
<text x="400.7" y="682.0" font-size="9.2" fill="#222" text-anchor="start" font-weight="normal" font-style="normal" >17</text>
<text x="435.0" y="517.0" font-size="12" fill="#111" text-anchor="start" font-weight="bold" font-style="normal" >g</text>
<circle cx="480.3" cy="566.0" r="38.8" fill="#040404" filter="url(#edge)"/>
<circle cx="480.3" cy="566.0" r="37.8" fill="#fff" filter="url(#dots)" opacity="0.13"/>
<path d="M456.5 578.2C457.1 577.5 459.0 575.7 460.4 574.3C461.7 573.0 463.3 571.7 464.6 570.0C465.9 568.3 466.9 566.0 468.1 564.1C469.3 562.1 470.4 559.9 471.8 558.3C473.3 556.8 474.9 555.7 476.7 554.8C478.5 553.9 480.6 553.5 482.7 552.9C484.7 552.3 486.8 551.7 488.9 551.3C491.0 550.9 493.4 550.7 495.3 550.5C497.2 550.3 498.8 550.2 500.4 550.2C502.1 550.2 504.4 550.5 505.2 550.5" fill="none" stroke="#2f7fc0" stroke-width="1.70" stroke-linecap="round" stroke-linejoin="round" filter="url(#edge)"/>
<path d="M473.5 586.8C473.8 586.6 474.8 585.9 475.4 585.5C476.1 585.2 476.8 584.9 477.4 584.6C477.9 584.2 478.7 583.5 479.0 583.3" fill="none" stroke="#eee" stroke-width="0.90" stroke-linecap="round" stroke-linejoin="round" />
<circle cx="448.1" cy="590.1" r="0.65" fill="#bbb"/>
<circle cx="449.3" cy="592.4" r="0.60" fill="#bbb"/>
<circle cx="446.9" cy="593.9" r="0.55" fill="#bbb"/>
<circle cx="443.4" cy="599.0" r="0.55" fill="#bbb"/>
<circle cx="450.0" cy="589.3" r="0.50" fill="#bbb"/>
<circle cx="440.3" cy="583.5" r="0.55" fill="#bbb"/>
<circle cx="516.4" cy="532.6" r="0.50" fill="#bbb"/>
<circle cx="441.9" cy="602.1" r="0.50" fill="#bbb"/>
<path d="M447.7 590.4 l1.6 1.9 l-1.9 2.3" stroke="#555" stroke-width="0.6" fill="none"/>
<text x="479.8" y="521.0" font-size="11.5" fill="#222" text-anchor="middle" font-weight="normal" font-style="normal" >CA1</text>
<circle cx="480.3" cy="677.4" r="38.8" fill="#4a177c" filter="url(#edge)"/>
<circle cx="480.3" cy="677.4" r="38.0" fill="#fff" filter="url(#vnoise)" opacity="0.32"/>
<path d="M456.5 689.6C457.1 688.9 459.0 687.1 460.4 685.7C461.7 684.4 463.3 683.1 464.6 681.4C465.9 679.7 466.9 677.4 468.1 675.5C469.3 673.5 470.4 671.3 471.8 669.7C473.3 668.2 474.9 667.1 476.7 666.2C478.5 665.3 480.6 664.9 482.7 664.3C484.7 663.7 486.8 663.1 488.9 662.7C491.0 662.3 493.4 662.1 495.3 661.9C497.2 661.7 498.8 661.6 500.4 661.6C502.1 661.6 504.4 661.9 505.2 661.9" fill="none" stroke="#4458a8" stroke-width="2.20" stroke-linecap="round" stroke-linejoin="round" opacity="0.5"/>
<path d="M515.1 664.3C515.6 664.8 517.2 666.1 517.7 667.2C518.1 668.2 518.2 669.5 517.8 670.5C517.4 671.6 516.5 672.7 515.5 673.6C514.4 674.5 513.5 675.2 511.5 676.0C509.5 676.8 506.3 677.7 503.6 678.4C500.9 679.0 496.7 679.7 495.3 680.0" fill="none" stroke="#3b5aa0" stroke-width="1.60" stroke-linecap="round" stroke-linejoin="round" opacity="0.4"/>
<path d="M470.0 693.2C470.8 692.3 473.0 689.8 474.8 688.3C476.6 686.8 478.5 685.5 480.8 684.1C483.2 682.7 486.2 681.2 488.9 680.0C491.6 678.8 495.7 677.4 497.1 676.9" fill="none" stroke="#3b5aa0" stroke-width="1.60" stroke-linecap="round" stroke-linejoin="round" opacity="0.4"/>
<path d="M456.5 689.6C457.1 688.9 459.0 687.1 460.4 685.7C461.7 684.4 463.3 683.1 464.6 681.4C465.9 679.7 466.9 677.4 468.1 675.5C469.3 673.5 470.4 671.3 471.8 669.7C473.3 668.2 474.9 667.1 476.7 666.2C478.5 665.3 480.6 664.9 482.7 664.3C484.7 663.7 486.8 663.1 488.9 662.7C491.0 662.3 493.4 662.1 495.3 661.9C497.2 661.7 498.8 661.6 500.4 661.6C502.1 661.6 504.4 661.9 505.2 661.9" fill="none" stroke="#2a9aa0" stroke-width="2.20" stroke-linecap="round" stroke-linejoin="round" />
<path d="M456.5 689.6C457.1 688.9 459.0 687.1 460.4 685.7C461.7 684.4 463.3 683.1 464.6 681.4C465.9 679.7 466.9 677.4 468.1 675.5C469.3 673.5 470.4 671.3 471.8 669.7C473.3 668.2 474.9 667.1 476.7 666.2C478.5 665.3 480.6 664.9 482.7 664.3C484.7 663.7 486.8 663.1 488.9 662.7C491.0 662.3 493.4 662.1 495.3 661.9C497.2 661.7 498.8 661.6 500.4 661.6C502.1 661.6 504.4 661.9 505.2 661.9" fill="none" stroke="#4fc9a0" stroke-width="1.00" stroke-linecap="round" stroke-linejoin="round" stroke-dasharray="1.2 1"/>
<path d="M473.5 698.2C473.8 698.0 474.8 697.3 475.4 696.9C476.1 696.6 476.8 696.3 477.4 696.0C477.9 695.6 478.7 694.9 479.0 694.7" fill="none" stroke="#ddd" stroke-width="0.70" stroke-linecap="round" stroke-linejoin="round" />
<circle cx="448.1" cy="701.5" r="0.65" fill="#bbb"/>
<circle cx="449.3" cy="703.8" r="0.60" fill="#bbb"/>
<circle cx="446.9" cy="705.3" r="0.55" fill="#bbb"/>
<circle cx="443.4" cy="710.4" r="0.55" fill="#bbb"/>
<circle cx="450.0" cy="700.7" r="0.50" fill="#bbb"/>
<circle cx="440.3" cy="694.9" r="0.55" fill="#bbb"/>
<circle cx="516.4" cy="644.0" r="0.50" fill="#bbb"/>
<circle cx="441.9" cy="713.5" r="0.50" fill="#bbb"/>
<path d="M447.7 701.8 l1.6 1.9 l-1.9 2.3" stroke="#555" stroke-width="0.6" fill="none"/>
<text x="480.3" y="631.4" font-size="11.5" fill="#222" text-anchor="middle" font-weight="normal" font-style="italic" >Wfs1</text>
<circle cx="574.1" cy="566.0" r="38.8" fill="#040404" filter="url(#edge)"/>
<circle cx="574.1" cy="566.0" r="37.8" fill="#fff" filter="url(#dots)" opacity="0.13"/>
<path d="M601.9 550.5C602.4 550.6 603.9 550.8 605.1 551.0C606.3 551.3 608.3 551.8 608.9 551.9" fill="none" stroke="#ff7a1a" stroke-width="2.60" stroke-linecap="round" stroke-linejoin="round" filter="url(#edge)"/>
<path d="M567.3 586.8C567.6 586.6 568.6 585.9 569.2 585.5C569.9 585.2 570.6 584.9 571.2 584.6C571.7 584.2 572.5 583.5 572.8 583.3" fill="none" stroke="#eee" stroke-width="0.90" stroke-linecap="round" stroke-linejoin="round" />
<circle cx="538.0" cy="578.8" r="0.6" fill="#e08a3a"/>
<circle cx="539.2" cy="581.5" r="0.6" fill="#e08a3a"/>
<circle cx="578.0" cy="552.4" r="0.6" fill="#e08a3a"/>
<circle cx="583.8" cy="550.5" r="0.6" fill="#e08a3a"/>
<circle cx="589.6" cy="549.7" r="0.6" fill="#e08a3a"/>
<circle cx="566.3" cy="558.2" r="0.6" fill="#e08a3a"/>
<circle cx="595.4" cy="548.5" r="0.6" fill="#e08a3a"/>
<circle cx="541.9" cy="590.1" r="0.65" fill="#bbb"/>
<circle cx="543.1" cy="592.4" r="0.60" fill="#bbb"/>
<circle cx="540.7" cy="593.9" r="0.55" fill="#bbb"/>
<circle cx="537.2" cy="599.0" r="0.55" fill="#bbb"/>
<circle cx="543.8" cy="589.3" r="0.50" fill="#bbb"/>
<circle cx="534.1" cy="583.5" r="0.55" fill="#bbb"/>
<circle cx="610.2" cy="532.6" r="0.50" fill="#bbb"/>
<circle cx="535.7" cy="602.1" r="0.50" fill="#bbb"/>
<path d="M541.5 590.4 l1.6 1.9 l-1.9 2.3" stroke="#555" stroke-width="0.6" fill="none"/>
<text x="573.6" y="521.0" font-size="11.5" fill="#222" text-anchor="middle" font-weight="normal" font-style="normal" >CA2</text>
<circle cx="574.1" cy="677.4" r="38.8" fill="#4a177c" filter="url(#edge)"/>
<circle cx="574.1" cy="677.4" r="38.0" fill="#fff" filter="url(#vnoise)" opacity="0.25"/>
<path d="M550.3 689.6C550.9 688.9 552.8 687.1 554.2 685.7C555.5 684.4 557.1 683.1 558.4 681.4C559.7 679.7 560.7 677.4 561.9 675.5C563.1 673.5 564.2 671.3 565.6 669.7C567.1 668.2 568.7 667.1 570.5 666.2C572.3 665.3 574.4 664.9 576.5 664.3C578.5 663.7 580.6 663.1 582.7 662.7C584.8 662.3 587.2 662.1 589.1 661.9C591.0 661.7 592.6 661.6 594.2 661.6C595.9 661.6 598.2 661.9 599.0 661.9" fill="none" stroke="#4458a8" stroke-width="2.20" stroke-linecap="round" stroke-linejoin="round" opacity="0.5"/>
<path d="M608.9 664.3C609.4 664.8 611.0 666.1 611.5 667.2C611.9 668.2 612.0 669.5 611.6 670.5C611.2 671.6 610.3 672.7 609.3 673.6C608.2 674.5 607.3 675.2 605.3 676.0C603.3 676.8 600.1 677.7 597.4 678.4C594.7 679.0 590.5 679.7 589.1 680.0" fill="none" stroke="#3b5aa0" stroke-width="1.60" stroke-linecap="round" stroke-linejoin="round" opacity="0.4"/>
<path d="M563.8 693.2C564.6 692.3 566.8 689.8 568.6 688.3C570.4 686.8 572.3 685.5 574.6 684.1C577.0 682.7 580.0 681.2 582.7 680.0C585.4 678.8 589.5 677.4 590.9 676.9" fill="none" stroke="#3b5aa0" stroke-width="1.60" stroke-linecap="round" stroke-linejoin="round" opacity="0.4"/>
<ellipse cx="553.9" cy="702.2" rx="7.5" ry="6.5" fill="url(#amg)"/>
<ellipse cx="546.2" cy="697.6" rx="3" ry="4" fill="url(#amg)"/>
<path d="M601.9 661.9C602.4 662.0 603.9 662.2 605.1 662.4C606.3 662.7 608.3 663.2 608.9 663.3" fill="none" stroke="#2f8a9a" stroke-width="1.60" stroke-linecap="round" stroke-linejoin="round" opacity="0.8"/>
<path d="M567.3 698.2C567.6 698.0 568.6 697.3 569.2 696.9C569.9 696.6 570.6 696.3 571.2 696.0C571.7 695.6 572.5 694.9 572.8 694.7" fill="none" stroke="#ddd" stroke-width="0.70" stroke-linecap="round" stroke-linejoin="round" />
<circle cx="541.9" cy="701.5" r="0.65" fill="#bbb"/>
<circle cx="543.1" cy="703.8" r="0.60" fill="#bbb"/>
<circle cx="540.7" cy="705.3" r="0.55" fill="#bbb"/>
<circle cx="537.2" cy="710.4" r="0.55" fill="#bbb"/>
<circle cx="543.8" cy="700.7" r="0.50" fill="#bbb"/>
<circle cx="534.1" cy="694.9" r="0.55" fill="#bbb"/>
<circle cx="610.2" cy="644.0" r="0.50" fill="#bbb"/>
<circle cx="535.7" cy="713.5" r="0.50" fill="#bbb"/>
<path d="M541.5 701.8 l1.6 1.9 l-1.9 2.3" stroke="#555" stroke-width="0.6" fill="none"/>
<text x="573.3" y="631.4" font-size="11.5" fill="#222" text-anchor="middle" font-weight="normal" font-style="italic" >Amigo2</text>
<circle cx="667.9" cy="566.0" r="38.8" fill="#040404" filter="url(#edge)"/>
<circle cx="667.9" cy="566.0" r="37.8" fill="#fff" filter="url(#dots)" opacity="0.13"/>
<path d="M705.3 555.8C705.3 556.3 705.8 558.1 705.4 559.1C705.0 560.2 704.1 561.3 703.1 562.2C702.0 563.1 701.1 563.8 699.1 564.6C697.1 565.4 693.9 566.3 691.2 567.0C688.5 567.6 684.3 568.3 682.9 568.6" fill="none" stroke="#2fc04a" stroke-width="1.80" stroke-linecap="round" stroke-linejoin="round" filter="url(#edge)"/>
<path d="M661.1 586.8C661.4 586.6 662.4 585.9 663.0 585.5C663.7 585.2 664.4 584.9 665.0 584.6C665.5 584.2 666.3 583.5 666.6 583.3" fill="none" stroke="#eee" stroke-width="0.90" stroke-linecap="round" stroke-linejoin="round" />
<circle cx="635.7" cy="590.1" r="0.65" fill="#bbb"/>
<circle cx="636.9" cy="592.4" r="0.60" fill="#bbb"/>
<circle cx="634.5" cy="593.9" r="0.55" fill="#bbb"/>
<circle cx="631.0" cy="599.0" r="0.55" fill="#bbb"/>
<circle cx="637.6" cy="589.3" r="0.50" fill="#bbb"/>
<circle cx="627.9" cy="583.5" r="0.55" fill="#bbb"/>
<circle cx="704.0" cy="532.6" r="0.50" fill="#bbb"/>
<circle cx="629.5" cy="602.1" r="0.50" fill="#bbb"/>
<path d="M635.3 590.4 l1.6 1.9 l-1.9 2.3" stroke="#555" stroke-width="0.6" fill="none"/>
<text x="667.4" y="521.0" font-size="11.5" fill="#222" text-anchor="middle" font-weight="normal" font-style="normal" >CA3</text>
<circle cx="667.9" cy="677.4" r="38.8" fill="#4a177c" filter="url(#edge)"/>
<circle cx="667.9" cy="677.4" r="38.0" fill="#fff" filter="url(#vnoise)" opacity="0.5"/>
<path d="M644.1 689.6C644.7 688.9 646.6 687.1 648.0 685.7C649.3 684.4 650.9 683.1 652.2 681.4C653.5 679.7 654.5 677.4 655.7 675.5C656.9 673.5 658.0 671.3 659.4 669.7C660.9 668.2 662.5 667.1 664.3 666.2C666.1 665.3 668.2 664.9 670.3 664.3C672.3 663.7 674.4 663.1 676.5 662.7C678.6 662.3 681.0 662.1 682.9 661.9C684.8 661.7 686.4 661.6 688.0 661.6C689.7 661.6 692.0 661.9 692.8 661.9" fill="none" stroke="#4458a8" stroke-width="2.20" stroke-linecap="round" stroke-linejoin="round" opacity="0.5"/>
<path d="M702.7 664.3C703.2 664.8 704.8 666.1 705.3 667.2C705.7 668.2 705.8 669.5 705.4 670.5C705.0 671.6 704.1 672.7 703.1 673.6C702.0 674.5 701.1 675.2 699.1 676.0C697.1 676.8 693.9 677.7 691.2 678.4C688.5 679.0 684.3 679.7 682.9 680.0" fill="none" stroke="#3b5aa0" stroke-width="1.60" stroke-linecap="round" stroke-linejoin="round" opacity="0.4"/>
<path d="M657.6 693.2C658.4 692.3 660.6 689.8 662.4 688.3C664.2 686.8 666.1 685.5 668.4 684.1C670.8 682.7 673.8 681.2 676.5 680.0C679.2 678.8 683.3 677.4 684.7 676.9" fill="none" stroke="#3b5aa0" stroke-width="1.60" stroke-linecap="round" stroke-linejoin="round" opacity="0.4"/>
<path d="M705.3 667.2C705.3 667.7 705.8 669.5 705.4 670.5C705.0 671.6 704.1 672.7 703.1 673.6C702.0 674.5 701.1 675.2 699.1 676.0C697.1 676.8 693.9 677.7 691.2 678.4C688.5 679.0 684.3 679.7 682.9 680.0" fill="none" stroke="#2a9aa0" stroke-width="2.40" stroke-linecap="round" stroke-linejoin="round" />
<path d="M703.1 673.6C702.4 674.0 701.1 675.2 699.1 676.0C697.1 676.8 693.9 677.7 691.2 678.4C688.5 679.0 684.3 679.7 682.9 680.0" fill="none" stroke="#55cc9a" stroke-width="1.00" stroke-linecap="round" stroke-linejoin="round" />
<path d="M661.1 698.2C661.4 698.0 662.4 697.3 663.0 696.9C663.7 696.6 664.4 696.3 665.0 696.0C665.5 695.6 666.3 694.9 666.6 694.7" fill="none" stroke="#ddd" stroke-width="0.70" stroke-linecap="round" stroke-linejoin="round" />
<circle cx="635.7" cy="701.5" r="0.65" fill="#bbb"/>
<circle cx="636.9" cy="703.8" r="0.60" fill="#bbb"/>
<circle cx="634.5" cy="705.3" r="0.55" fill="#bbb"/>
<circle cx="631.0" cy="710.4" r="0.55" fill="#bbb"/>
<circle cx="637.6" cy="700.7" r="0.50" fill="#bbb"/>
<circle cx="627.9" cy="694.9" r="0.55" fill="#bbb"/>
<circle cx="704.0" cy="644.0" r="0.50" fill="#bbb"/>
<circle cx="629.5" cy="713.5" r="0.50" fill="#bbb"/>
<path d="M635.3 701.8 l1.6 1.9 l-1.9 2.3" stroke="#555" stroke-width="0.6" fill="none"/>
<text x="669.3" y="631.4" font-size="11.5" fill="#222" text-anchor="middle" font-weight="normal" font-style="italic" >Pvrl3</text>
<circle cx="761.7" cy="566.0" r="38.8" fill="#040404" filter="url(#edge)"/>
<circle cx="761.7" cy="566.0" r="37.8" fill="#fff" filter="url(#dots)" opacity="0.13"/>
<path d="M751.4 581.8C752.2 580.9 754.4 578.4 756.2 576.9C758.0 575.4 759.9 574.1 762.2 572.7C764.6 571.3 767.6 569.8 770.3 568.6C773.0 567.4 777.1 566.0 778.5 565.5" fill="none" stroke="#e8302f" stroke-width="2.60" stroke-linecap="round" stroke-linejoin="round" filter="url(#edge)"/>
<path d="M752.0 582.6C753.0 582.2 756.1 580.7 758.1 579.8C760.1 578.9 762.3 578.0 764.1 577.2C765.9 576.4 767.5 575.7 769.0 575.0C770.5 574.2 772.4 573.1 773.0 572.7" fill="none" stroke="#e8302f" stroke-width="2.20" stroke-linecap="round" stroke-linejoin="round" filter="url(#edge)"/>
<path d="M754.9 586.8C755.2 586.6 756.2 585.9 756.8 585.5C757.5 585.2 758.2 584.9 758.8 584.6C759.3 584.2 760.1 583.5 760.4 583.3" fill="none" stroke="#eee" stroke-width="0.90" stroke-linecap="round" stroke-linejoin="round" />
<circle cx="729.5" cy="590.1" r="0.65" fill="#bbb"/>
<circle cx="730.7" cy="592.4" r="0.60" fill="#bbb"/>
<circle cx="728.3" cy="593.9" r="0.55" fill="#bbb"/>
<circle cx="724.8" cy="599.0" r="0.55" fill="#bbb"/>
<circle cx="731.4" cy="589.3" r="0.50" fill="#bbb"/>
<circle cx="721.7" cy="583.5" r="0.55" fill="#bbb"/>
<circle cx="797.8" cy="532.6" r="0.50" fill="#bbb"/>
<circle cx="723.3" cy="602.1" r="0.50" fill="#bbb"/>
<path d="M729.1 590.4 l1.6 1.9 l-1.9 2.3" stroke="#555" stroke-width="0.6" fill="none"/>
<text x="762.6" y="521.0" font-size="11.5" fill="#222" text-anchor="middle" font-weight="normal" font-style="normal" >DG</text>
<circle cx="761.7" cy="677.4" r="38.8" fill="#4a177c" filter="url(#edge)"/>
<circle cx="761.7" cy="677.4" r="38.0" fill="#fff" filter="url(#vnoise)" opacity="0.8"/>
<path d="M737.9 689.6C738.5 688.9 740.4 687.1 741.8 685.7C743.1 684.4 744.7 683.1 746.0 681.4C747.3 679.7 748.3 677.4 749.5 675.5C750.7 673.5 751.8 671.3 753.2 669.7C754.7 668.2 756.3 667.1 758.1 666.2C759.9 665.3 762.0 664.9 764.1 664.3C766.1 663.7 768.2 663.1 770.3 662.7C772.4 662.3 774.8 662.1 776.7 661.9C778.6 661.7 780.2 661.6 781.8 661.6C783.5 661.6 785.8 661.9 786.6 661.9" fill="none" stroke="#4458a8" stroke-width="2.20" stroke-linecap="round" stroke-linejoin="round" opacity="0.5"/>
<path d="M796.5 664.3C797.0 664.8 798.6 666.1 799.1 667.2C799.5 668.2 799.6 669.5 799.2 670.5C798.8 671.6 797.9 672.7 796.9 673.6C795.8 674.5 794.9 675.2 792.9 676.0C790.9 676.8 787.7 677.7 785.0 678.4C782.3 679.0 778.1 679.7 776.7 680.0" fill="none" stroke="#3b5aa0" stroke-width="1.60" stroke-linecap="round" stroke-linejoin="round" opacity="0.4"/>
<path d="M751.4 693.2C752.2 692.3 754.4 689.8 756.2 688.3C758.0 686.8 759.9 685.5 762.2 684.1C764.6 682.7 767.6 681.2 770.3 680.0C773.0 678.8 777.1 677.4 778.5 676.9" fill="none" stroke="#3b5aa0" stroke-width="1.60" stroke-linecap="round" stroke-linejoin="round" opacity="0.4"/>
<path d="M751.4 693.2C752.2 692.3 754.4 689.8 756.2 688.3C758.0 686.8 759.9 685.5 762.2 684.1C764.6 682.7 767.6 681.2 770.3 680.0C773.0 678.8 777.1 677.4 778.5 676.9" fill="none" stroke="#2fa39a" stroke-width="2.40" stroke-linecap="round" stroke-linejoin="round" />
<path d="M752.0 694.0C753.0 693.6 756.1 692.1 758.1 691.2C760.1 690.3 762.3 689.4 764.1 688.6C765.9 687.8 767.5 687.1 769.0 686.4C770.5 685.6 772.4 684.5 773.0 684.1" fill="none" stroke="#2fa39a" stroke-width="2.00" stroke-linecap="round" stroke-linejoin="round" />
<path d="M751.4 693.2C752.2 692.3 754.4 689.8 756.2 688.3C758.0 686.8 759.9 685.5 762.2 684.1C764.6 682.7 767.6 681.2 770.3 680.0C773.0 678.8 777.1 677.4 778.5 676.9" fill="none" stroke="#66d19a" stroke-width="0.90" stroke-linecap="round" stroke-linejoin="round" />
<path d="M754.9 698.2C755.2 698.0 756.2 697.3 756.8 696.9C757.5 696.6 758.2 696.3 758.8 696.0C759.3 695.6 760.1 694.9 760.4 694.7" fill="none" stroke="#ddd" stroke-width="0.70" stroke-linecap="round" stroke-linejoin="round" />
<circle cx="729.5" cy="701.5" r="0.65" fill="#bbb"/>
<circle cx="730.7" cy="703.8" r="0.60" fill="#bbb"/>
<circle cx="728.3" cy="705.3" r="0.55" fill="#bbb"/>
<circle cx="724.8" cy="710.4" r="0.55" fill="#bbb"/>
<circle cx="731.4" cy="700.7" r="0.50" fill="#bbb"/>
<circle cx="721.7" cy="694.9" r="0.55" fill="#bbb"/>
<circle cx="797.8" cy="644.0" r="0.50" fill="#bbb"/>
<circle cx="723.3" cy="713.5" r="0.50" fill="#bbb"/>
<path d="M729.1 701.8 l1.6 1.9 l-1.9 2.3" stroke="#555" stroke-width="0.6" fill="none"/>
<text x="761.6" y="631.4" font-size="11.5" fill="#222" text-anchor="middle" font-weight="normal" font-style="italic" >Prox1</text>
<rect x="804.2" y="650" width="5.6" height="57.2" fill="url(#vir)" stroke="#666" stroke-width="0.4"/>
<text x="813.8" y="655.5" font-size="9" fill="#222" text-anchor="start" font-weight="normal" font-style="normal" >High</text>
<text x="813.8" y="708.8" font-size="9" fill="#222" text-anchor="start" font-weight="normal" font-style="normal" >Low</text>
</svg></body></html>
